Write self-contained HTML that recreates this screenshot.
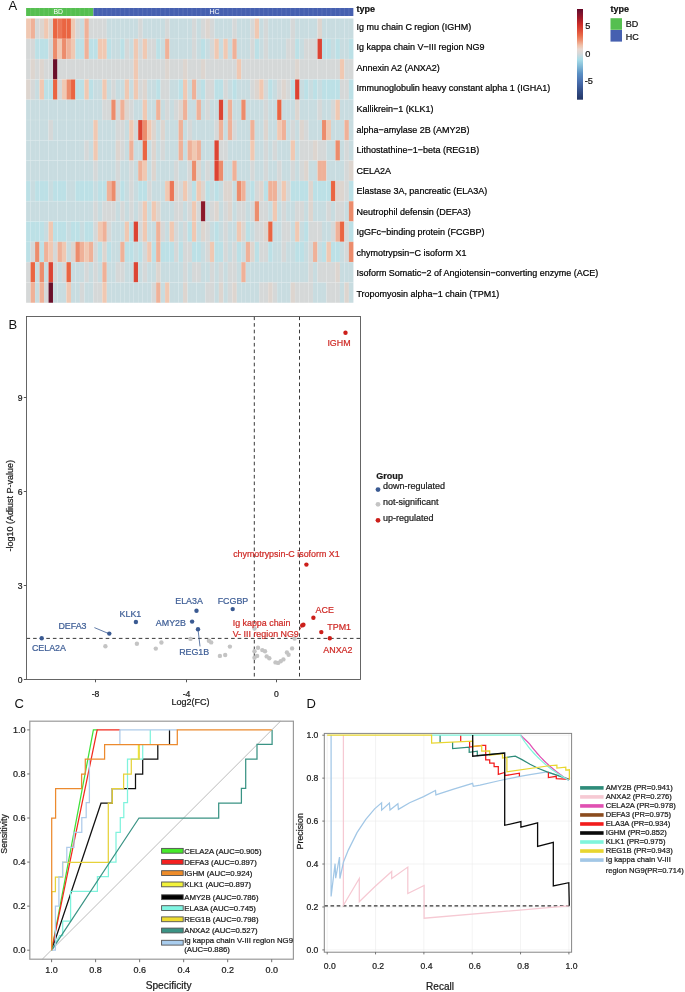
<!DOCTYPE html><html><head><meta charset="utf-8"><style>html,body{margin:0;padding:0;background:#fff;}svg{display:block;will-change:transform;}text{font-family:"Liberation Sans", sans-serif;}</style></head><body>
<svg width="685" height="992" viewBox="0 0 685 992">
<rect x="0" y="0" width="685" height="992" fill="#fff"/>
<text x="8.6" y="10.4" font-size="13" fill="#111" stroke="none">A</text>
<text x="8.4" y="329.2" font-size="13" fill="#111" stroke="none">B</text>
<text x="14.4" y="707.7" font-size="13" fill="#111" stroke="none">C</text>
<text x="306.6" y="708.1" font-size="13" fill="#111" stroke="none">D</text>
<rect x="26.1" y="8.0" width="67.245" height="8.0" fill="#55BF50"/>
<rect x="93.345" y="8.0" width="260.014" height="8.0" fill="#4660B0"/>
<line x1="30.58" y1="8" x2="30.58" y2="16" stroke="#fff" stroke-opacity="0.25" stroke-width="0.4"/>
<line x1="35.07" y1="8" x2="35.07" y2="16" stroke="#fff" stroke-opacity="0.25" stroke-width="0.4"/>
<line x1="39.55" y1="8" x2="39.55" y2="16" stroke="#fff" stroke-opacity="0.25" stroke-width="0.4"/>
<line x1="44.03" y1="8" x2="44.03" y2="16" stroke="#fff" stroke-opacity="0.25" stroke-width="0.4"/>
<line x1="48.52" y1="8" x2="48.52" y2="16" stroke="#fff" stroke-opacity="0.25" stroke-width="0.4"/>
<line x1="53.00" y1="8" x2="53.00" y2="16" stroke="#fff" stroke-opacity="0.25" stroke-width="0.4"/>
<line x1="57.48" y1="8" x2="57.48" y2="16" stroke="#fff" stroke-opacity="0.25" stroke-width="0.4"/>
<line x1="61.96" y1="8" x2="61.96" y2="16" stroke="#fff" stroke-opacity="0.25" stroke-width="0.4"/>
<line x1="66.45" y1="8" x2="66.45" y2="16" stroke="#fff" stroke-opacity="0.25" stroke-width="0.4"/>
<line x1="70.93" y1="8" x2="70.93" y2="16" stroke="#fff" stroke-opacity="0.25" stroke-width="0.4"/>
<line x1="75.41" y1="8" x2="75.41" y2="16" stroke="#fff" stroke-opacity="0.25" stroke-width="0.4"/>
<line x1="79.90" y1="8" x2="79.90" y2="16" stroke="#fff" stroke-opacity="0.25" stroke-width="0.4"/>
<line x1="84.38" y1="8" x2="84.38" y2="16" stroke="#fff" stroke-opacity="0.25" stroke-width="0.4"/>
<line x1="88.86" y1="8" x2="88.86" y2="16" stroke="#fff" stroke-opacity="0.25" stroke-width="0.4"/>
<line x1="93.34" y1="8" x2="93.34" y2="16" stroke="#fff" stroke-opacity="0.25" stroke-width="0.4"/>
<line x1="97.83" y1="8" x2="97.83" y2="16" stroke="#fff" stroke-opacity="0.25" stroke-width="0.4"/>
<line x1="102.31" y1="8" x2="102.31" y2="16" stroke="#fff" stroke-opacity="0.25" stroke-width="0.4"/>
<line x1="106.79" y1="8" x2="106.79" y2="16" stroke="#fff" stroke-opacity="0.25" stroke-width="0.4"/>
<line x1="111.28" y1="8" x2="111.28" y2="16" stroke="#fff" stroke-opacity="0.25" stroke-width="0.4"/>
<line x1="115.76" y1="8" x2="115.76" y2="16" stroke="#fff" stroke-opacity="0.25" stroke-width="0.4"/>
<line x1="120.24" y1="8" x2="120.24" y2="16" stroke="#fff" stroke-opacity="0.25" stroke-width="0.4"/>
<line x1="124.73" y1="8" x2="124.73" y2="16" stroke="#fff" stroke-opacity="0.25" stroke-width="0.4"/>
<line x1="129.21" y1="8" x2="129.21" y2="16" stroke="#fff" stroke-opacity="0.25" stroke-width="0.4"/>
<line x1="133.69" y1="8" x2="133.69" y2="16" stroke="#fff" stroke-opacity="0.25" stroke-width="0.4"/>
<line x1="138.17" y1="8" x2="138.17" y2="16" stroke="#fff" stroke-opacity="0.25" stroke-width="0.4"/>
<line x1="142.66" y1="8" x2="142.66" y2="16" stroke="#fff" stroke-opacity="0.25" stroke-width="0.4"/>
<line x1="147.14" y1="8" x2="147.14" y2="16" stroke="#fff" stroke-opacity="0.25" stroke-width="0.4"/>
<line x1="151.62" y1="8" x2="151.62" y2="16" stroke="#fff" stroke-opacity="0.25" stroke-width="0.4"/>
<line x1="156.11" y1="8" x2="156.11" y2="16" stroke="#fff" stroke-opacity="0.25" stroke-width="0.4"/>
<line x1="160.59" y1="8" x2="160.59" y2="16" stroke="#fff" stroke-opacity="0.25" stroke-width="0.4"/>
<line x1="165.07" y1="8" x2="165.07" y2="16" stroke="#fff" stroke-opacity="0.25" stroke-width="0.4"/>
<line x1="169.56" y1="8" x2="169.56" y2="16" stroke="#fff" stroke-opacity="0.25" stroke-width="0.4"/>
<line x1="174.04" y1="8" x2="174.04" y2="16" stroke="#fff" stroke-opacity="0.25" stroke-width="0.4"/>
<line x1="178.52" y1="8" x2="178.52" y2="16" stroke="#fff" stroke-opacity="0.25" stroke-width="0.4"/>
<line x1="183.00" y1="8" x2="183.00" y2="16" stroke="#fff" stroke-opacity="0.25" stroke-width="0.4"/>
<line x1="187.49" y1="8" x2="187.49" y2="16" stroke="#fff" stroke-opacity="0.25" stroke-width="0.4"/>
<line x1="191.97" y1="8" x2="191.97" y2="16" stroke="#fff" stroke-opacity="0.25" stroke-width="0.4"/>
<line x1="196.45" y1="8" x2="196.45" y2="16" stroke="#fff" stroke-opacity="0.25" stroke-width="0.4"/>
<line x1="200.94" y1="8" x2="200.94" y2="16" stroke="#fff" stroke-opacity="0.25" stroke-width="0.4"/>
<line x1="205.42" y1="8" x2="205.42" y2="16" stroke="#fff" stroke-opacity="0.25" stroke-width="0.4"/>
<line x1="209.90" y1="8" x2="209.90" y2="16" stroke="#fff" stroke-opacity="0.25" stroke-width="0.4"/>
<line x1="214.39" y1="8" x2="214.39" y2="16" stroke="#fff" stroke-opacity="0.25" stroke-width="0.4"/>
<line x1="218.87" y1="8" x2="218.87" y2="16" stroke="#fff" stroke-opacity="0.25" stroke-width="0.4"/>
<line x1="223.35" y1="8" x2="223.35" y2="16" stroke="#fff" stroke-opacity="0.25" stroke-width="0.4"/>
<line x1="227.83" y1="8" x2="227.83" y2="16" stroke="#fff" stroke-opacity="0.25" stroke-width="0.4"/>
<line x1="232.32" y1="8" x2="232.32" y2="16" stroke="#fff" stroke-opacity="0.25" stroke-width="0.4"/>
<line x1="236.80" y1="8" x2="236.80" y2="16" stroke="#fff" stroke-opacity="0.25" stroke-width="0.4"/>
<line x1="241.28" y1="8" x2="241.28" y2="16" stroke="#fff" stroke-opacity="0.25" stroke-width="0.4"/>
<line x1="245.77" y1="8" x2="245.77" y2="16" stroke="#fff" stroke-opacity="0.25" stroke-width="0.4"/>
<line x1="250.25" y1="8" x2="250.25" y2="16" stroke="#fff" stroke-opacity="0.25" stroke-width="0.4"/>
<line x1="254.73" y1="8" x2="254.73" y2="16" stroke="#fff" stroke-opacity="0.25" stroke-width="0.4"/>
<line x1="259.22" y1="8" x2="259.22" y2="16" stroke="#fff" stroke-opacity="0.25" stroke-width="0.4"/>
<line x1="263.70" y1="8" x2="263.70" y2="16" stroke="#fff" stroke-opacity="0.25" stroke-width="0.4"/>
<line x1="268.18" y1="8" x2="268.18" y2="16" stroke="#fff" stroke-opacity="0.25" stroke-width="0.4"/>
<line x1="272.66" y1="8" x2="272.66" y2="16" stroke="#fff" stroke-opacity="0.25" stroke-width="0.4"/>
<line x1="277.15" y1="8" x2="277.15" y2="16" stroke="#fff" stroke-opacity="0.25" stroke-width="0.4"/>
<line x1="281.63" y1="8" x2="281.63" y2="16" stroke="#fff" stroke-opacity="0.25" stroke-width="0.4"/>
<line x1="286.11" y1="8" x2="286.11" y2="16" stroke="#fff" stroke-opacity="0.25" stroke-width="0.4"/>
<line x1="290.60" y1="8" x2="290.60" y2="16" stroke="#fff" stroke-opacity="0.25" stroke-width="0.4"/>
<line x1="295.08" y1="8" x2="295.08" y2="16" stroke="#fff" stroke-opacity="0.25" stroke-width="0.4"/>
<line x1="299.56" y1="8" x2="299.56" y2="16" stroke="#fff" stroke-opacity="0.25" stroke-width="0.4"/>
<line x1="304.05" y1="8" x2="304.05" y2="16" stroke="#fff" stroke-opacity="0.25" stroke-width="0.4"/>
<line x1="308.53" y1="8" x2="308.53" y2="16" stroke="#fff" stroke-opacity="0.25" stroke-width="0.4"/>
<line x1="313.01" y1="8" x2="313.01" y2="16" stroke="#fff" stroke-opacity="0.25" stroke-width="0.4"/>
<line x1="317.50" y1="8" x2="317.50" y2="16" stroke="#fff" stroke-opacity="0.25" stroke-width="0.4"/>
<line x1="321.98" y1="8" x2="321.98" y2="16" stroke="#fff" stroke-opacity="0.25" stroke-width="0.4"/>
<line x1="326.46" y1="8" x2="326.46" y2="16" stroke="#fff" stroke-opacity="0.25" stroke-width="0.4"/>
<line x1="330.94" y1="8" x2="330.94" y2="16" stroke="#fff" stroke-opacity="0.25" stroke-width="0.4"/>
<line x1="335.43" y1="8" x2="335.43" y2="16" stroke="#fff" stroke-opacity="0.25" stroke-width="0.4"/>
<line x1="339.91" y1="8" x2="339.91" y2="16" stroke="#fff" stroke-opacity="0.25" stroke-width="0.4"/>
<line x1="344.39" y1="8" x2="344.39" y2="16" stroke="#fff" stroke-opacity="0.25" stroke-width="0.4"/>
<line x1="348.88" y1="8" x2="348.88" y2="16" stroke="#fff" stroke-opacity="0.25" stroke-width="0.4"/>
<text x="58.2" y="14.3" font-size="6.8" fill="#fff" stroke="none" text-anchor="middle">BD</text>
<text x="214.4" y="14.3" font-size="6.8" fill="#fff" stroke="none" text-anchor="middle">HC</text>
<rect x="26.10" y="18.50" width="4.533" height="20.35" fill="#F0C8B2"/>
<rect x="30.58" y="18.50" width="4.533" height="20.35" fill="#EFB198"/>
<rect x="35.07" y="18.50" width="4.533" height="20.35" fill="#D5D8D8"/>
<rect x="39.55" y="18.50" width="4.533" height="20.35" fill="#DDD5CF"/>
<rect x="44.03" y="18.50" width="4.533" height="20.35" fill="#F0C8B2"/>
<rect x="48.52" y="18.50" width="4.533" height="20.35" fill="#DDD5CF"/>
<rect x="53.00" y="18.50" width="4.533" height="20.35" fill="#EA6542"/>
<rect x="57.48" y="18.50" width="4.533" height="20.35" fill="#EC7656"/>
<rect x="61.96" y="18.50" width="4.533" height="20.35" fill="#EA6542"/>
<rect x="66.45" y="18.50" width="4.533" height="20.35" fill="#EA6542"/>
<rect x="70.93" y="18.50" width="4.533" height="20.35" fill="#F0C8B2"/>
<rect x="75.41" y="18.50" width="4.533" height="20.35" fill="#D5D8D8"/>
<rect x="79.90" y="18.50" width="4.533" height="20.35" fill="#C8DCE0"/>
<rect x="84.38" y="18.50" width="4.533" height="20.35" fill="#EFB198"/>
<rect x="88.86" y="18.50" width="4.533" height="20.35" fill="#D5D8D8"/>
<rect x="93.34" y="18.50" width="4.533" height="20.35" fill="#D5D8D8"/>
<rect x="97.83" y="18.50" width="4.533" height="20.35" fill="#D5D8D8"/>
<rect x="102.31" y="18.50" width="4.533" height="20.35" fill="#D5D8D8"/>
<rect x="106.79" y="18.50" width="4.533" height="20.35" fill="#C8DCE0"/>
<rect x="111.28" y="18.50" width="4.533" height="20.35" fill="#C8DCE0"/>
<rect x="115.76" y="18.50" width="4.533" height="20.35" fill="#C8DCE0"/>
<rect x="120.24" y="18.50" width="4.533" height="20.35" fill="#C8DCE0"/>
<rect x="124.73" y="18.50" width="4.533" height="20.35" fill="#C8DCE0"/>
<rect x="129.21" y="18.50" width="4.533" height="20.35" fill="#C8DCE0"/>
<rect x="133.69" y="18.50" width="4.533" height="20.35" fill="#C8DCE0"/>
<rect x="138.17" y="18.50" width="4.533" height="20.35" fill="#D5D8D8"/>
<rect x="142.66" y="18.50" width="4.533" height="20.35" fill="#C8DCE0"/>
<rect x="147.14" y="18.50" width="4.533" height="20.35" fill="#C8DCE0"/>
<rect x="151.62" y="18.50" width="4.533" height="20.35" fill="#C8DCE0"/>
<rect x="156.11" y="18.50" width="4.533" height="20.35" fill="#C8DCE0"/>
<rect x="160.59" y="18.50" width="4.533" height="20.35" fill="#C8DCE0"/>
<rect x="165.07" y="18.50" width="4.533" height="20.35" fill="#D5D8D8"/>
<rect x="169.56" y="18.50" width="4.533" height="20.35" fill="#C8DCE0"/>
<rect x="174.04" y="18.50" width="4.533" height="20.35" fill="#C8DCE0"/>
<rect x="178.52" y="18.50" width="4.533" height="20.35" fill="#C8DCE0"/>
<rect x="183.00" y="18.50" width="4.533" height="20.35" fill="#C8DCE0"/>
<rect x="187.49" y="18.50" width="4.533" height="20.35" fill="#C8DCE0"/>
<rect x="191.97" y="18.50" width="4.533" height="20.35" fill="#D5D8D8"/>
<rect x="196.45" y="18.50" width="4.533" height="20.35" fill="#C8DCE0"/>
<rect x="200.94" y="18.50" width="4.533" height="20.35" fill="#D5D8D8"/>
<rect x="205.42" y="18.50" width="4.533" height="20.35" fill="#DDD5CF"/>
<rect x="209.90" y="18.50" width="4.533" height="20.35" fill="#D5D8D8"/>
<rect x="214.39" y="18.50" width="4.533" height="20.35" fill="#C8DCE0"/>
<rect x="218.87" y="18.50" width="4.533" height="20.35" fill="#C8DCE0"/>
<rect x="223.35" y="18.50" width="4.533" height="20.35" fill="#C8DCE0"/>
<rect x="227.83" y="18.50" width="4.533" height="20.35" fill="#C8DCE0"/>
<rect x="232.32" y="18.50" width="4.533" height="20.35" fill="#D5D8D8"/>
<rect x="236.80" y="18.50" width="4.533" height="20.35" fill="#C8DCE0"/>
<rect x="241.28" y="18.50" width="4.533" height="20.35" fill="#C8DCE0"/>
<rect x="245.77" y="18.50" width="4.533" height="20.35" fill="#C8DCE0"/>
<rect x="250.25" y="18.50" width="4.533" height="20.35" fill="#D5D8D8"/>
<rect x="254.73" y="18.50" width="4.533" height="20.35" fill="#F0C8B2"/>
<rect x="259.22" y="18.50" width="4.533" height="20.35" fill="#C8DCE0"/>
<rect x="263.70" y="18.50" width="4.533" height="20.35" fill="#D5D8D8"/>
<rect x="268.18" y="18.50" width="4.533" height="20.35" fill="#C8DCE0"/>
<rect x="272.66" y="18.50" width="4.533" height="20.35" fill="#C8DCE0"/>
<rect x="277.15" y="18.50" width="4.533" height="20.35" fill="#C8DCE0"/>
<rect x="281.63" y="18.50" width="4.533" height="20.35" fill="#C8DCE0"/>
<rect x="286.11" y="18.50" width="4.533" height="20.35" fill="#C8DCE0"/>
<rect x="290.60" y="18.50" width="4.533" height="20.35" fill="#D5D8D8"/>
<rect x="295.08" y="18.50" width="4.533" height="20.35" fill="#C8DCE0"/>
<rect x="299.56" y="18.50" width="4.533" height="20.35" fill="#C8DCE0"/>
<rect x="304.05" y="18.50" width="4.533" height="20.35" fill="#C8DCE0"/>
<rect x="308.53" y="18.50" width="4.533" height="20.35" fill="#C8DCE0"/>
<rect x="313.01" y="18.50" width="4.533" height="20.35" fill="#C8DCE0"/>
<rect x="317.50" y="18.50" width="4.533" height="20.35" fill="#DDD5CF"/>
<rect x="321.98" y="18.50" width="4.533" height="20.35" fill="#C8DCE0"/>
<rect x="326.46" y="18.50" width="4.533" height="20.35" fill="#C8DCE0"/>
<rect x="330.94" y="18.50" width="4.533" height="20.35" fill="#C8DCE0"/>
<rect x="335.43" y="18.50" width="4.533" height="20.35" fill="#C8DCE0"/>
<rect x="339.91" y="18.50" width="4.533" height="20.35" fill="#C8DCE0"/>
<rect x="344.39" y="18.50" width="4.533" height="20.35" fill="#C8DCE0"/>
<rect x="348.88" y="18.50" width="4.533" height="20.35" fill="#C8DCE0"/>
<rect x="26.10" y="38.80" width="4.533" height="20.35" fill="#D5D8D8"/>
<rect x="30.58" y="38.80" width="4.533" height="20.35" fill="#D5D8D8"/>
<rect x="35.07" y="38.80" width="4.533" height="20.35" fill="#BCE0E6"/>
<rect x="39.55" y="38.80" width="4.533" height="20.35" fill="#BCE0E6"/>
<rect x="44.03" y="38.80" width="4.533" height="20.35" fill="#BCE0E6"/>
<rect x="48.52" y="38.80" width="4.533" height="20.35" fill="#D5D8D8"/>
<rect x="53.00" y="38.80" width="4.533" height="20.35" fill="#EC8C6C"/>
<rect x="57.48" y="38.80" width="4.533" height="20.35" fill="#F0C8B2"/>
<rect x="61.96" y="38.80" width="4.533" height="20.35" fill="#EC8C6C"/>
<rect x="66.45" y="38.80" width="4.533" height="20.35" fill="#EFB198"/>
<rect x="70.93" y="38.80" width="4.533" height="20.35" fill="#F0C8B2"/>
<rect x="75.41" y="38.80" width="4.533" height="20.35" fill="#BCE0E6"/>
<rect x="79.90" y="38.80" width="4.533" height="20.35" fill="#BCE0E6"/>
<rect x="84.38" y="38.80" width="4.533" height="20.35" fill="#EFB198"/>
<rect x="88.86" y="38.80" width="4.533" height="20.35" fill="#BCE0E6"/>
<rect x="93.34" y="38.80" width="4.533" height="20.35" fill="#BCE0E6"/>
<rect x="97.83" y="38.80" width="4.533" height="20.35" fill="#F0C8B2"/>
<rect x="102.31" y="38.80" width="4.533" height="20.35" fill="#F0C8B2"/>
<rect x="106.79" y="38.80" width="4.533" height="20.35" fill="#BCE0E6"/>
<rect x="111.28" y="38.80" width="4.533" height="20.35" fill="#C8DCE0"/>
<rect x="115.76" y="38.80" width="4.533" height="20.35" fill="#C8DCE0"/>
<rect x="120.24" y="38.80" width="4.533" height="20.35" fill="#BCE0E6"/>
<rect x="124.73" y="38.80" width="4.533" height="20.35" fill="#D5D8D8"/>
<rect x="129.21" y="38.80" width="4.533" height="20.35" fill="#C8DCE0"/>
<rect x="133.69" y="38.80" width="4.533" height="20.35" fill="#F0C8B2"/>
<rect x="138.17" y="38.80" width="4.533" height="20.35" fill="#D5D8D8"/>
<rect x="142.66" y="38.80" width="4.533" height="20.35" fill="#F0C8B2"/>
<rect x="147.14" y="38.80" width="4.533" height="20.35" fill="#D5D8D8"/>
<rect x="151.62" y="38.80" width="4.533" height="20.35" fill="#D5D8D8"/>
<rect x="156.11" y="38.80" width="4.533" height="20.35" fill="#BCE0E6"/>
<rect x="160.59" y="38.80" width="4.533" height="20.35" fill="#C8DCE0"/>
<rect x="165.07" y="38.80" width="4.533" height="20.35" fill="#EFB198"/>
<rect x="169.56" y="38.80" width="4.533" height="20.35" fill="#C8DCE0"/>
<rect x="174.04" y="38.80" width="4.533" height="20.35" fill="#C8DCE0"/>
<rect x="178.52" y="38.80" width="4.533" height="20.35" fill="#C8DCE0"/>
<rect x="183.00" y="38.80" width="4.533" height="20.35" fill="#C8DCE0"/>
<rect x="187.49" y="38.80" width="4.533" height="20.35" fill="#C8DCE0"/>
<rect x="191.97" y="38.80" width="4.533" height="20.35" fill="#D5D8D8"/>
<rect x="196.45" y="38.80" width="4.533" height="20.35" fill="#C8DCE0"/>
<rect x="200.94" y="38.80" width="4.533" height="20.35" fill="#BCE0E6"/>
<rect x="205.42" y="38.80" width="4.533" height="20.35" fill="#C8DCE0"/>
<rect x="209.90" y="38.80" width="4.533" height="20.35" fill="#D5D8D8"/>
<rect x="214.39" y="38.80" width="4.533" height="20.35" fill="#F0C8B2"/>
<rect x="218.87" y="38.80" width="4.533" height="20.35" fill="#C8DCE0"/>
<rect x="223.35" y="38.80" width="4.533" height="20.35" fill="#F0C8B2"/>
<rect x="227.83" y="38.80" width="4.533" height="20.35" fill="#C8DCE0"/>
<rect x="232.32" y="38.80" width="4.533" height="20.35" fill="#EFB198"/>
<rect x="236.80" y="38.80" width="4.533" height="20.35" fill="#C8DCE0"/>
<rect x="241.28" y="38.80" width="4.533" height="20.35" fill="#C8DCE0"/>
<rect x="245.77" y="38.80" width="4.533" height="20.35" fill="#C8DCE0"/>
<rect x="250.25" y="38.80" width="4.533" height="20.35" fill="#D5D8D8"/>
<rect x="254.73" y="38.80" width="4.533" height="20.35" fill="#BCE0E6"/>
<rect x="259.22" y="38.80" width="4.533" height="20.35" fill="#C8DCE0"/>
<rect x="263.70" y="38.80" width="4.533" height="20.35" fill="#D5D8D8"/>
<rect x="268.18" y="38.80" width="4.533" height="20.35" fill="#C8DCE0"/>
<rect x="272.66" y="38.80" width="4.533" height="20.35" fill="#C8DCE0"/>
<rect x="277.15" y="38.80" width="4.533" height="20.35" fill="#C8DCE0"/>
<rect x="281.63" y="38.80" width="4.533" height="20.35" fill="#C8DCE0"/>
<rect x="286.11" y="38.80" width="4.533" height="20.35" fill="#D5D8D8"/>
<rect x="290.60" y="38.80" width="4.533" height="20.35" fill="#D5D8D8"/>
<rect x="295.08" y="38.80" width="4.533" height="20.35" fill="#BCE0E6"/>
<rect x="299.56" y="38.80" width="4.533" height="20.35" fill="#C8DCE0"/>
<rect x="304.05" y="38.80" width="4.533" height="20.35" fill="#D5D8D8"/>
<rect x="308.53" y="38.80" width="4.533" height="20.35" fill="#D5D8D8"/>
<rect x="313.01" y="38.80" width="4.533" height="20.35" fill="#D5D8D8"/>
<rect x="317.50" y="38.80" width="4.533" height="20.35" fill="#DC4433"/>
<rect x="321.98" y="38.80" width="4.533" height="20.35" fill="#BCE0E6"/>
<rect x="326.46" y="38.80" width="4.533" height="20.35" fill="#BCE0E6"/>
<rect x="330.94" y="38.80" width="4.533" height="20.35" fill="#C8DCE0"/>
<rect x="335.43" y="38.80" width="4.533" height="20.35" fill="#BCE0E6"/>
<rect x="339.91" y="38.80" width="4.533" height="20.35" fill="#C8DCE0"/>
<rect x="344.39" y="38.80" width="4.533" height="20.35" fill="#C8DCE0"/>
<rect x="348.88" y="38.80" width="4.533" height="20.35" fill="#BCE0E6"/>
<rect x="26.10" y="59.10" width="4.533" height="20.35" fill="#D5D8D8"/>
<rect x="30.58" y="59.10" width="4.533" height="20.35" fill="#DDD5CF"/>
<rect x="35.07" y="59.10" width="4.533" height="20.35" fill="#D5D8D8"/>
<rect x="39.55" y="59.10" width="4.533" height="20.35" fill="#DDD5CF"/>
<rect x="44.03" y="59.10" width="4.533" height="20.35" fill="#D5D8D8"/>
<rect x="48.52" y="59.10" width="4.533" height="20.35" fill="#D5D8D8"/>
<rect x="53.00" y="59.10" width="4.533" height="20.35" fill="#6A0F2A"/>
<rect x="57.48" y="59.10" width="4.533" height="20.35" fill="#D5D8D8"/>
<rect x="61.96" y="59.10" width="4.533" height="20.35" fill="#D5D8D8"/>
<rect x="66.45" y="59.10" width="4.533" height="20.35" fill="#D5D8D8"/>
<rect x="70.93" y="59.10" width="4.533" height="20.35" fill="#D5D8D8"/>
<rect x="75.41" y="59.10" width="4.533" height="20.35" fill="#D5D8D8"/>
<rect x="79.90" y="59.10" width="4.533" height="20.35" fill="#D5D8D8"/>
<rect x="84.38" y="59.10" width="4.533" height="20.35" fill="#D5D8D8"/>
<rect x="88.86" y="59.10" width="4.533" height="20.35" fill="#D5D8D8"/>
<rect x="93.34" y="59.10" width="4.533" height="20.35" fill="#D5D8D8"/>
<rect x="97.83" y="59.10" width="4.533" height="20.35" fill="#D5D8D8"/>
<rect x="102.31" y="59.10" width="4.533" height="20.35" fill="#D5D8D8"/>
<rect x="106.79" y="59.10" width="4.533" height="20.35" fill="#D5D8D8"/>
<rect x="111.28" y="59.10" width="4.533" height="20.35" fill="#D5D8D8"/>
<rect x="115.76" y="59.10" width="4.533" height="20.35" fill="#D5D8D8"/>
<rect x="120.24" y="59.10" width="4.533" height="20.35" fill="#D5D8D8"/>
<rect x="124.73" y="59.10" width="4.533" height="20.35" fill="#D5D8D8"/>
<rect x="129.21" y="59.10" width="4.533" height="20.35" fill="#D5D8D8"/>
<rect x="133.69" y="59.10" width="4.533" height="20.35" fill="#F0C8B2"/>
<rect x="138.17" y="59.10" width="4.533" height="20.35" fill="#D5D8D8"/>
<rect x="142.66" y="59.10" width="4.533" height="20.35" fill="#D5D8D8"/>
<rect x="147.14" y="59.10" width="4.533" height="20.35" fill="#D5D8D8"/>
<rect x="151.62" y="59.10" width="4.533" height="20.35" fill="#D5D8D8"/>
<rect x="156.11" y="59.10" width="4.533" height="20.35" fill="#D5D8D8"/>
<rect x="160.59" y="59.10" width="4.533" height="20.35" fill="#D5D8D8"/>
<rect x="165.07" y="59.10" width="4.533" height="20.35" fill="#DDD5CF"/>
<rect x="169.56" y="59.10" width="4.533" height="20.35" fill="#D5D8D8"/>
<rect x="174.04" y="59.10" width="4.533" height="20.35" fill="#D5D8D8"/>
<rect x="178.52" y="59.10" width="4.533" height="20.35" fill="#D5D8D8"/>
<rect x="183.00" y="59.10" width="4.533" height="20.35" fill="#DDD5CF"/>
<rect x="187.49" y="59.10" width="4.533" height="20.35" fill="#D5D8D8"/>
<rect x="191.97" y="59.10" width="4.533" height="20.35" fill="#D5D8D8"/>
<rect x="196.45" y="59.10" width="4.533" height="20.35" fill="#D5D8D8"/>
<rect x="200.94" y="59.10" width="4.533" height="20.35" fill="#DDD5CF"/>
<rect x="205.42" y="59.10" width="4.533" height="20.35" fill="#D5D8D8"/>
<rect x="209.90" y="59.10" width="4.533" height="20.35" fill="#D5D8D8"/>
<rect x="214.39" y="59.10" width="4.533" height="20.35" fill="#D5D8D8"/>
<rect x="218.87" y="59.10" width="4.533" height="20.35" fill="#D5D8D8"/>
<rect x="223.35" y="59.10" width="4.533" height="20.35" fill="#D5D8D8"/>
<rect x="227.83" y="59.10" width="4.533" height="20.35" fill="#D5D8D8"/>
<rect x="232.32" y="59.10" width="4.533" height="20.35" fill="#D5D8D8"/>
<rect x="236.80" y="59.10" width="4.533" height="20.35" fill="#F0C8B2"/>
<rect x="241.28" y="59.10" width="4.533" height="20.35" fill="#D5D8D8"/>
<rect x="245.77" y="59.10" width="4.533" height="20.35" fill="#D5D8D8"/>
<rect x="250.25" y="59.10" width="4.533" height="20.35" fill="#D5D8D8"/>
<rect x="254.73" y="59.10" width="4.533" height="20.35" fill="#D5D8D8"/>
<rect x="259.22" y="59.10" width="4.533" height="20.35" fill="#D5D8D8"/>
<rect x="263.70" y="59.10" width="4.533" height="20.35" fill="#D5D8D8"/>
<rect x="268.18" y="59.10" width="4.533" height="20.35" fill="#D5D8D8"/>
<rect x="272.66" y="59.10" width="4.533" height="20.35" fill="#D5D8D8"/>
<rect x="277.15" y="59.10" width="4.533" height="20.35" fill="#D5D8D8"/>
<rect x="281.63" y="59.10" width="4.533" height="20.35" fill="#D5D8D8"/>
<rect x="286.11" y="59.10" width="4.533" height="20.35" fill="#D5D8D8"/>
<rect x="290.60" y="59.10" width="4.533" height="20.35" fill="#D5D8D8"/>
<rect x="295.08" y="59.10" width="4.533" height="20.35" fill="#DDD5CF"/>
<rect x="299.56" y="59.10" width="4.533" height="20.35" fill="#D5D8D8"/>
<rect x="304.05" y="59.10" width="4.533" height="20.35" fill="#D5D8D8"/>
<rect x="308.53" y="59.10" width="4.533" height="20.35" fill="#D5D8D8"/>
<rect x="313.01" y="59.10" width="4.533" height="20.35" fill="#D5D8D8"/>
<rect x="317.50" y="59.10" width="4.533" height="20.35" fill="#D5D8D8"/>
<rect x="321.98" y="59.10" width="4.533" height="20.35" fill="#D5D8D8"/>
<rect x="326.46" y="59.10" width="4.533" height="20.35" fill="#D5D8D8"/>
<rect x="330.94" y="59.10" width="4.533" height="20.35" fill="#D5D8D8"/>
<rect x="335.43" y="59.10" width="4.533" height="20.35" fill="#D5D8D8"/>
<rect x="339.91" y="59.10" width="4.533" height="20.35" fill="#F0C8B2"/>
<rect x="344.39" y="59.10" width="4.533" height="20.35" fill="#D5D8D8"/>
<rect x="348.88" y="59.10" width="4.533" height="20.35" fill="#D5D8D8"/>
<rect x="26.10" y="79.40" width="4.533" height="20.35" fill="#DDD5CF"/>
<rect x="30.58" y="79.40" width="4.533" height="20.35" fill="#D5D8D8"/>
<rect x="35.07" y="79.40" width="4.533" height="20.35" fill="#C8DCE0"/>
<rect x="39.55" y="79.40" width="4.533" height="20.35" fill="#F0C8B2"/>
<rect x="44.03" y="79.40" width="4.533" height="20.35" fill="#BCE0E6"/>
<rect x="48.52" y="79.40" width="4.533" height="20.35" fill="#BCE0E6"/>
<rect x="53.00" y="79.40" width="4.533" height="20.35" fill="#EA6542"/>
<rect x="57.48" y="79.40" width="4.533" height="20.35" fill="#D5D8D8"/>
<rect x="61.96" y="79.40" width="4.533" height="20.35" fill="#F0C8B2"/>
<rect x="66.45" y="79.40" width="4.533" height="20.35" fill="#EC8C6C"/>
<rect x="70.93" y="79.40" width="4.533" height="20.35" fill="#EA6542"/>
<rect x="75.41" y="79.40" width="4.533" height="20.35" fill="#BCE0E6"/>
<rect x="79.90" y="79.40" width="4.533" height="20.35" fill="#BCE0E6"/>
<rect x="84.38" y="79.40" width="4.533" height="20.35" fill="#F0C8B2"/>
<rect x="88.86" y="79.40" width="4.533" height="20.35" fill="#BCE0E6"/>
<rect x="93.34" y="79.40" width="4.533" height="20.35" fill="#C8DCE0"/>
<rect x="97.83" y="79.40" width="4.533" height="20.35" fill="#C8DCE0"/>
<rect x="102.31" y="79.40" width="4.533" height="20.35" fill="#F0C8B2"/>
<rect x="106.79" y="79.40" width="4.533" height="20.35" fill="#C8DCE0"/>
<rect x="111.28" y="79.40" width="4.533" height="20.35" fill="#D5D8D8"/>
<rect x="115.76" y="79.40" width="4.533" height="20.35" fill="#C8DCE0"/>
<rect x="120.24" y="79.40" width="4.533" height="20.35" fill="#C8DCE0"/>
<rect x="124.73" y="79.40" width="4.533" height="20.35" fill="#F0C8B2"/>
<rect x="129.21" y="79.40" width="4.533" height="20.35" fill="#C8DCE0"/>
<rect x="133.69" y="79.40" width="4.533" height="20.35" fill="#F0C8B2"/>
<rect x="138.17" y="79.40" width="4.533" height="20.35" fill="#D5D8D8"/>
<rect x="142.66" y="79.40" width="4.533" height="20.35" fill="#DDD5CF"/>
<rect x="147.14" y="79.40" width="4.533" height="20.35" fill="#C8DCE0"/>
<rect x="151.62" y="79.40" width="4.533" height="20.35" fill="#C8DCE0"/>
<rect x="156.11" y="79.40" width="4.533" height="20.35" fill="#BCE0E6"/>
<rect x="160.59" y="79.40" width="4.533" height="20.35" fill="#D5D8D8"/>
<rect x="165.07" y="79.40" width="4.533" height="20.35" fill="#D5D8D8"/>
<rect x="169.56" y="79.40" width="4.533" height="20.35" fill="#C8DCE0"/>
<rect x="174.04" y="79.40" width="4.533" height="20.35" fill="#C8DCE0"/>
<rect x="178.52" y="79.40" width="4.533" height="20.35" fill="#BCE0E6"/>
<rect x="183.00" y="79.40" width="4.533" height="20.35" fill="#F0C8B2"/>
<rect x="187.49" y="79.40" width="4.533" height="20.35" fill="#C8DCE0"/>
<rect x="191.97" y="79.40" width="4.533" height="20.35" fill="#EFB198"/>
<rect x="196.45" y="79.40" width="4.533" height="20.35" fill="#C8DCE0"/>
<rect x="200.94" y="79.40" width="4.533" height="20.35" fill="#BCE0E6"/>
<rect x="205.42" y="79.40" width="4.533" height="20.35" fill="#D5D8D8"/>
<rect x="209.90" y="79.40" width="4.533" height="20.35" fill="#D5D8D8"/>
<rect x="214.39" y="79.40" width="4.533" height="20.35" fill="#BCE0E6"/>
<rect x="218.87" y="79.40" width="4.533" height="20.35" fill="#BCE0E6"/>
<rect x="223.35" y="79.40" width="4.533" height="20.35" fill="#D5D8D8"/>
<rect x="227.83" y="79.40" width="4.533" height="20.35" fill="#C8DCE0"/>
<rect x="232.32" y="79.40" width="4.533" height="20.35" fill="#BCE0E6"/>
<rect x="236.80" y="79.40" width="4.533" height="20.35" fill="#C8DCE0"/>
<rect x="241.28" y="79.40" width="4.533" height="20.35" fill="#C8DCE0"/>
<rect x="245.77" y="79.40" width="4.533" height="20.35" fill="#C8DCE0"/>
<rect x="250.25" y="79.40" width="4.533" height="20.35" fill="#D5D8D8"/>
<rect x="254.73" y="79.40" width="4.533" height="20.35" fill="#DDD5CF"/>
<rect x="259.22" y="79.40" width="4.533" height="20.35" fill="#F0C8B2"/>
<rect x="263.70" y="79.40" width="4.533" height="20.35" fill="#D5D8D8"/>
<rect x="268.18" y="79.40" width="4.533" height="20.35" fill="#BCE0E6"/>
<rect x="272.66" y="79.40" width="4.533" height="20.35" fill="#C8DCE0"/>
<rect x="277.15" y="79.40" width="4.533" height="20.35" fill="#D5D8D8"/>
<rect x="281.63" y="79.40" width="4.533" height="20.35" fill="#DDD5CF"/>
<rect x="286.11" y="79.40" width="4.533" height="20.35" fill="#D5D8D8"/>
<rect x="290.60" y="79.40" width="4.533" height="20.35" fill="#BCE0E6"/>
<rect x="295.08" y="79.40" width="4.533" height="20.35" fill="#DC4433"/>
<rect x="299.56" y="79.40" width="4.533" height="20.35" fill="#C8DCE0"/>
<rect x="304.05" y="79.40" width="4.533" height="20.35" fill="#BCE0E6"/>
<rect x="308.53" y="79.40" width="4.533" height="20.35" fill="#C8DCE0"/>
<rect x="313.01" y="79.40" width="4.533" height="20.35" fill="#BCE0E6"/>
<rect x="317.50" y="79.40" width="4.533" height="20.35" fill="#C8DCE0"/>
<rect x="321.98" y="79.40" width="4.533" height="20.35" fill="#BCE0E6"/>
<rect x="326.46" y="79.40" width="4.533" height="20.35" fill="#BCE0E6"/>
<rect x="330.94" y="79.40" width="4.533" height="20.35" fill="#BCE0E6"/>
<rect x="335.43" y="79.40" width="4.533" height="20.35" fill="#BCE0E6"/>
<rect x="339.91" y="79.40" width="4.533" height="20.35" fill="#D5D8D8"/>
<rect x="344.39" y="79.40" width="4.533" height="20.35" fill="#D5D8D8"/>
<rect x="348.88" y="79.40" width="4.533" height="20.35" fill="#BCE0E6"/>
<rect x="26.10" y="99.70" width="4.533" height="20.35" fill="#C8DCE0"/>
<rect x="30.58" y="99.70" width="4.533" height="20.35" fill="#C8DCE0"/>
<rect x="35.07" y="99.70" width="4.533" height="20.35" fill="#C8DCE0"/>
<rect x="39.55" y="99.70" width="4.533" height="20.35" fill="#C8DCE0"/>
<rect x="44.03" y="99.70" width="4.533" height="20.35" fill="#C8DCE0"/>
<rect x="48.52" y="99.70" width="4.533" height="20.35" fill="#C8DCE0"/>
<rect x="53.00" y="99.70" width="4.533" height="20.35" fill="#C8DCE0"/>
<rect x="57.48" y="99.70" width="4.533" height="20.35" fill="#C8DCE0"/>
<rect x="61.96" y="99.70" width="4.533" height="20.35" fill="#C8DCE0"/>
<rect x="66.45" y="99.70" width="4.533" height="20.35" fill="#C8DCE0"/>
<rect x="70.93" y="99.70" width="4.533" height="20.35" fill="#C8DCE0"/>
<rect x="75.41" y="99.70" width="4.533" height="20.35" fill="#C8DCE0"/>
<rect x="79.90" y="99.70" width="4.533" height="20.35" fill="#C8DCE0"/>
<rect x="84.38" y="99.70" width="4.533" height="20.35" fill="#C8DCE0"/>
<rect x="88.86" y="99.70" width="4.533" height="20.35" fill="#C8DCE0"/>
<rect x="93.34" y="99.70" width="4.533" height="20.35" fill="#C8DCE0"/>
<rect x="97.83" y="99.70" width="4.533" height="20.35" fill="#C8DCE0"/>
<rect x="102.31" y="99.70" width="4.533" height="20.35" fill="#D5D8D8"/>
<rect x="106.79" y="99.70" width="4.533" height="20.35" fill="#D5D8D8"/>
<rect x="111.28" y="99.70" width="4.533" height="20.35" fill="#EC8C6C"/>
<rect x="115.76" y="99.70" width="4.533" height="20.35" fill="#D5D8D8"/>
<rect x="120.24" y="99.70" width="4.533" height="20.35" fill="#EFB198"/>
<rect x="124.73" y="99.70" width="4.533" height="20.35" fill="#DDD5CF"/>
<rect x="129.21" y="99.70" width="4.533" height="20.35" fill="#D5D8D8"/>
<rect x="133.69" y="99.70" width="4.533" height="20.35" fill="#C8DCE0"/>
<rect x="138.17" y="99.70" width="4.533" height="20.35" fill="#C8DCE0"/>
<rect x="142.66" y="99.70" width="4.533" height="20.35" fill="#F0C8B2"/>
<rect x="147.14" y="99.70" width="4.533" height="20.35" fill="#C8DCE0"/>
<rect x="151.62" y="99.70" width="4.533" height="20.35" fill="#C8DCE0"/>
<rect x="156.11" y="99.70" width="4.533" height="20.35" fill="#EFB198"/>
<rect x="160.59" y="99.70" width="4.533" height="20.35" fill="#C8DCE0"/>
<rect x="165.07" y="99.70" width="4.533" height="20.35" fill="#D5D8D8"/>
<rect x="169.56" y="99.70" width="4.533" height="20.35" fill="#C8DCE0"/>
<rect x="174.04" y="99.70" width="4.533" height="20.35" fill="#D5D8D8"/>
<rect x="178.52" y="99.70" width="4.533" height="20.35" fill="#DDD5CF"/>
<rect x="183.00" y="99.70" width="4.533" height="20.35" fill="#EFB198"/>
<rect x="187.49" y="99.70" width="4.533" height="20.35" fill="#C8DCE0"/>
<rect x="191.97" y="99.70" width="4.533" height="20.35" fill="#C8DCE0"/>
<rect x="196.45" y="99.70" width="4.533" height="20.35" fill="#EFB198"/>
<rect x="200.94" y="99.70" width="4.533" height="20.35" fill="#C8DCE0"/>
<rect x="205.42" y="99.70" width="4.533" height="20.35" fill="#D5D8D8"/>
<rect x="209.90" y="99.70" width="4.533" height="20.35" fill="#C8DCE0"/>
<rect x="214.39" y="99.70" width="4.533" height="20.35" fill="#C8DCE0"/>
<rect x="218.87" y="99.70" width="4.533" height="20.35" fill="#DC4433"/>
<rect x="223.35" y="99.70" width="4.533" height="20.35" fill="#C8DCE0"/>
<rect x="227.83" y="99.70" width="4.533" height="20.35" fill="#EFB198"/>
<rect x="232.32" y="99.70" width="4.533" height="20.35" fill="#C8DCE0"/>
<rect x="236.80" y="99.70" width="4.533" height="20.35" fill="#C8DCE0"/>
<rect x="241.28" y="99.70" width="4.533" height="20.35" fill="#EC8C6C"/>
<rect x="245.77" y="99.70" width="4.533" height="20.35" fill="#C8DCE0"/>
<rect x="250.25" y="99.70" width="4.533" height="20.35" fill="#C8DCE0"/>
<rect x="254.73" y="99.70" width="4.533" height="20.35" fill="#C8DCE0"/>
<rect x="259.22" y="99.70" width="4.533" height="20.35" fill="#C8DCE0"/>
<rect x="263.70" y="99.70" width="4.533" height="20.35" fill="#D5D8D8"/>
<rect x="268.18" y="99.70" width="4.533" height="20.35" fill="#C8DCE0"/>
<rect x="272.66" y="99.70" width="4.533" height="20.35" fill="#C8DCE0"/>
<rect x="277.15" y="99.70" width="4.533" height="20.35" fill="#EA6542"/>
<rect x="281.63" y="99.70" width="4.533" height="20.35" fill="#C8DCE0"/>
<rect x="286.11" y="99.70" width="4.533" height="20.35" fill="#C8DCE0"/>
<rect x="290.60" y="99.70" width="4.533" height="20.35" fill="#C8DCE0"/>
<rect x="295.08" y="99.70" width="4.533" height="20.35" fill="#DDD5CF"/>
<rect x="299.56" y="99.70" width="4.533" height="20.35" fill="#C8DCE0"/>
<rect x="304.05" y="99.70" width="4.533" height="20.35" fill="#C8DCE0"/>
<rect x="308.53" y="99.70" width="4.533" height="20.35" fill="#C8DCE0"/>
<rect x="313.01" y="99.70" width="4.533" height="20.35" fill="#C8DCE0"/>
<rect x="317.50" y="99.70" width="4.533" height="20.35" fill="#D5D8D8"/>
<rect x="321.98" y="99.70" width="4.533" height="20.35" fill="#C8DCE0"/>
<rect x="326.46" y="99.70" width="4.533" height="20.35" fill="#C8DCE0"/>
<rect x="330.94" y="99.70" width="4.533" height="20.35" fill="#D5D8D8"/>
<rect x="335.43" y="99.70" width="4.533" height="20.35" fill="#F0C8B2"/>
<rect x="339.91" y="99.70" width="4.533" height="20.35" fill="#C8DCE0"/>
<rect x="344.39" y="99.70" width="4.533" height="20.35" fill="#C8DCE0"/>
<rect x="348.88" y="99.70" width="4.533" height="20.35" fill="#C8DCE0"/>
<rect x="26.10" y="120.00" width="4.533" height="20.35" fill="#C8DCE0"/>
<rect x="30.58" y="120.00" width="4.533" height="20.35" fill="#C8DCE0"/>
<rect x="35.07" y="120.00" width="4.533" height="20.35" fill="#C8DCE0"/>
<rect x="39.55" y="120.00" width="4.533" height="20.35" fill="#C8DCE0"/>
<rect x="44.03" y="120.00" width="4.533" height="20.35" fill="#C8DCE0"/>
<rect x="48.52" y="120.00" width="4.533" height="20.35" fill="#D5D8D8"/>
<rect x="53.00" y="120.00" width="4.533" height="20.35" fill="#C8DCE0"/>
<rect x="57.48" y="120.00" width="4.533" height="20.35" fill="#C8DCE0"/>
<rect x="61.96" y="120.00" width="4.533" height="20.35" fill="#C8DCE0"/>
<rect x="66.45" y="120.00" width="4.533" height="20.35" fill="#C8DCE0"/>
<rect x="70.93" y="120.00" width="4.533" height="20.35" fill="#C8DCE0"/>
<rect x="75.41" y="120.00" width="4.533" height="20.35" fill="#C8DCE0"/>
<rect x="79.90" y="120.00" width="4.533" height="20.35" fill="#C8DCE0"/>
<rect x="84.38" y="120.00" width="4.533" height="20.35" fill="#C8DCE0"/>
<rect x="88.86" y="120.00" width="4.533" height="20.35" fill="#C8DCE0"/>
<rect x="93.34" y="120.00" width="4.533" height="20.35" fill="#F0C8B2"/>
<rect x="97.83" y="120.00" width="4.533" height="20.35" fill="#C8DCE0"/>
<rect x="102.31" y="120.00" width="4.533" height="20.35" fill="#C8DCE0"/>
<rect x="106.79" y="120.00" width="4.533" height="20.35" fill="#C8DCE0"/>
<rect x="111.28" y="120.00" width="4.533" height="20.35" fill="#C8DCE0"/>
<rect x="115.76" y="120.00" width="4.533" height="20.35" fill="#D5D8D8"/>
<rect x="120.24" y="120.00" width="4.533" height="20.35" fill="#D5D8D8"/>
<rect x="124.73" y="120.00" width="4.533" height="20.35" fill="#C8DCE0"/>
<rect x="129.21" y="120.00" width="4.533" height="20.35" fill="#F0C8B2"/>
<rect x="133.69" y="120.00" width="4.533" height="20.35" fill="#D5D8D8"/>
<rect x="138.17" y="120.00" width="4.533" height="20.35" fill="#DC4433"/>
<rect x="142.66" y="120.00" width="4.533" height="20.35" fill="#EC8C6C"/>
<rect x="147.14" y="120.00" width="4.533" height="20.35" fill="#F0C8B2"/>
<rect x="151.62" y="120.00" width="4.533" height="20.35" fill="#DDD5CF"/>
<rect x="156.11" y="120.00" width="4.533" height="20.35" fill="#C8DCE0"/>
<rect x="160.59" y="120.00" width="4.533" height="20.35" fill="#DDD5CF"/>
<rect x="165.07" y="120.00" width="4.533" height="20.35" fill="#C8DCE0"/>
<rect x="169.56" y="120.00" width="4.533" height="20.35" fill="#C8DCE0"/>
<rect x="174.04" y="120.00" width="4.533" height="20.35" fill="#C8DCE0"/>
<rect x="178.52" y="120.00" width="4.533" height="20.35" fill="#EFB198"/>
<rect x="183.00" y="120.00" width="4.533" height="20.35" fill="#C8DCE0"/>
<rect x="187.49" y="120.00" width="4.533" height="20.35" fill="#D5D8D8"/>
<rect x="191.97" y="120.00" width="4.533" height="20.35" fill="#C8DCE0"/>
<rect x="196.45" y="120.00" width="4.533" height="20.35" fill="#C8DCE0"/>
<rect x="200.94" y="120.00" width="4.533" height="20.35" fill="#C8DCE0"/>
<rect x="205.42" y="120.00" width="4.533" height="20.35" fill="#C8DCE0"/>
<rect x="209.90" y="120.00" width="4.533" height="20.35" fill="#C8DCE0"/>
<rect x="214.39" y="120.00" width="4.533" height="20.35" fill="#D5D8D8"/>
<rect x="218.87" y="120.00" width="4.533" height="20.35" fill="#EFB198"/>
<rect x="223.35" y="120.00" width="4.533" height="20.35" fill="#C8DCE0"/>
<rect x="227.83" y="120.00" width="4.533" height="20.35" fill="#EFB198"/>
<rect x="232.32" y="120.00" width="4.533" height="20.35" fill="#D5D8D8"/>
<rect x="236.80" y="120.00" width="4.533" height="20.35" fill="#C8DCE0"/>
<rect x="241.28" y="120.00" width="4.533" height="20.35" fill="#C8DCE0"/>
<rect x="245.77" y="120.00" width="4.533" height="20.35" fill="#C8DCE0"/>
<rect x="250.25" y="120.00" width="4.533" height="20.35" fill="#EFB198"/>
<rect x="254.73" y="120.00" width="4.533" height="20.35" fill="#C8DCE0"/>
<rect x="259.22" y="120.00" width="4.533" height="20.35" fill="#C8DCE0"/>
<rect x="263.70" y="120.00" width="4.533" height="20.35" fill="#DDD5CF"/>
<rect x="268.18" y="120.00" width="4.533" height="20.35" fill="#C8DCE0"/>
<rect x="272.66" y="120.00" width="4.533" height="20.35" fill="#C8DCE0"/>
<rect x="277.15" y="120.00" width="4.533" height="20.35" fill="#F0C8B2"/>
<rect x="281.63" y="120.00" width="4.533" height="20.35" fill="#EFB198"/>
<rect x="286.11" y="120.00" width="4.533" height="20.35" fill="#C8DCE0"/>
<rect x="290.60" y="120.00" width="4.533" height="20.35" fill="#D5D8D8"/>
<rect x="295.08" y="120.00" width="4.533" height="20.35" fill="#C8DCE0"/>
<rect x="299.56" y="120.00" width="4.533" height="20.35" fill="#DDD5CF"/>
<rect x="304.05" y="120.00" width="4.533" height="20.35" fill="#D5D8D8"/>
<rect x="308.53" y="120.00" width="4.533" height="20.35" fill="#C8DCE0"/>
<rect x="313.01" y="120.00" width="4.533" height="20.35" fill="#C8DCE0"/>
<rect x="317.50" y="120.00" width="4.533" height="20.35" fill="#C8DCE0"/>
<rect x="321.98" y="120.00" width="4.533" height="20.35" fill="#EC8C6C"/>
<rect x="326.46" y="120.00" width="4.533" height="20.35" fill="#F0C8B2"/>
<rect x="330.94" y="120.00" width="4.533" height="20.35" fill="#C8DCE0"/>
<rect x="335.43" y="120.00" width="4.533" height="20.35" fill="#C8DCE0"/>
<rect x="339.91" y="120.00" width="4.533" height="20.35" fill="#C8DCE0"/>
<rect x="344.39" y="120.00" width="4.533" height="20.35" fill="#EFB198"/>
<rect x="348.88" y="120.00" width="4.533" height="20.35" fill="#C8DCE0"/>
<rect x="26.10" y="140.30" width="4.533" height="20.35" fill="#C8DCE0"/>
<rect x="30.58" y="140.30" width="4.533" height="20.35" fill="#C8DCE0"/>
<rect x="35.07" y="140.30" width="4.533" height="20.35" fill="#C8DCE0"/>
<rect x="39.55" y="140.30" width="4.533" height="20.35" fill="#C8DCE0"/>
<rect x="44.03" y="140.30" width="4.533" height="20.35" fill="#C8DCE0"/>
<rect x="48.52" y="140.30" width="4.533" height="20.35" fill="#C8DCE0"/>
<rect x="53.00" y="140.30" width="4.533" height="20.35" fill="#C8DCE0"/>
<rect x="57.48" y="140.30" width="4.533" height="20.35" fill="#C8DCE0"/>
<rect x="61.96" y="140.30" width="4.533" height="20.35" fill="#C8DCE0"/>
<rect x="66.45" y="140.30" width="4.533" height="20.35" fill="#C8DCE0"/>
<rect x="70.93" y="140.30" width="4.533" height="20.35" fill="#C8DCE0"/>
<rect x="75.41" y="140.30" width="4.533" height="20.35" fill="#C8DCE0"/>
<rect x="79.90" y="140.30" width="4.533" height="20.35" fill="#C8DCE0"/>
<rect x="84.38" y="140.30" width="4.533" height="20.35" fill="#D5D8D8"/>
<rect x="88.86" y="140.30" width="4.533" height="20.35" fill="#C8DCE0"/>
<rect x="93.34" y="140.30" width="4.533" height="20.35" fill="#F0C8B2"/>
<rect x="97.83" y="140.30" width="4.533" height="20.35" fill="#C8DCE0"/>
<rect x="102.31" y="140.30" width="4.533" height="20.35" fill="#C8DCE0"/>
<rect x="106.79" y="140.30" width="4.533" height="20.35" fill="#C8DCE0"/>
<rect x="111.28" y="140.30" width="4.533" height="20.35" fill="#C8DCE0"/>
<rect x="115.76" y="140.30" width="4.533" height="20.35" fill="#DDD5CF"/>
<rect x="120.24" y="140.30" width="4.533" height="20.35" fill="#D5D8D8"/>
<rect x="124.73" y="140.30" width="4.533" height="20.35" fill="#C8DCE0"/>
<rect x="129.21" y="140.30" width="4.533" height="20.35" fill="#EFB198"/>
<rect x="133.69" y="140.30" width="4.533" height="20.35" fill="#C8DCE0"/>
<rect x="138.17" y="140.30" width="4.533" height="20.35" fill="#C8DCE0"/>
<rect x="142.66" y="140.30" width="4.533" height="20.35" fill="#EA6542"/>
<rect x="147.14" y="140.30" width="4.533" height="20.35" fill="#C8DCE0"/>
<rect x="151.62" y="140.30" width="4.533" height="20.35" fill="#DDD5CF"/>
<rect x="156.11" y="140.30" width="4.533" height="20.35" fill="#C8DCE0"/>
<rect x="160.59" y="140.30" width="4.533" height="20.35" fill="#D5D8D8"/>
<rect x="165.07" y="140.30" width="4.533" height="20.35" fill="#C8DCE0"/>
<rect x="169.56" y="140.30" width="4.533" height="20.35" fill="#C8DCE0"/>
<rect x="174.04" y="140.30" width="4.533" height="20.35" fill="#C8DCE0"/>
<rect x="178.52" y="140.30" width="4.533" height="20.35" fill="#EFB198"/>
<rect x="183.00" y="140.30" width="4.533" height="20.35" fill="#C8DCE0"/>
<rect x="187.49" y="140.30" width="4.533" height="20.35" fill="#EFB198"/>
<rect x="191.97" y="140.30" width="4.533" height="20.35" fill="#F0C8B2"/>
<rect x="196.45" y="140.30" width="4.533" height="20.35" fill="#EFB198"/>
<rect x="200.94" y="140.30" width="4.533" height="20.35" fill="#C8DCE0"/>
<rect x="205.42" y="140.30" width="4.533" height="20.35" fill="#C8DCE0"/>
<rect x="209.90" y="140.30" width="4.533" height="20.35" fill="#C8DCE0"/>
<rect x="214.39" y="140.30" width="4.533" height="20.35" fill="#DC4433"/>
<rect x="218.87" y="140.30" width="4.533" height="20.35" fill="#D5D8D8"/>
<rect x="223.35" y="140.30" width="4.533" height="20.35" fill="#D5D8D8"/>
<rect x="227.83" y="140.30" width="4.533" height="20.35" fill="#C8DCE0"/>
<rect x="232.32" y="140.30" width="4.533" height="20.35" fill="#C8DCE0"/>
<rect x="236.80" y="140.30" width="4.533" height="20.35" fill="#C8DCE0"/>
<rect x="241.28" y="140.30" width="4.533" height="20.35" fill="#C8DCE0"/>
<rect x="245.77" y="140.30" width="4.533" height="20.35" fill="#C8DCE0"/>
<rect x="250.25" y="140.30" width="4.533" height="20.35" fill="#F0C8B2"/>
<rect x="254.73" y="140.30" width="4.533" height="20.35" fill="#C8DCE0"/>
<rect x="259.22" y="140.30" width="4.533" height="20.35" fill="#C8DCE0"/>
<rect x="263.70" y="140.30" width="4.533" height="20.35" fill="#D5D8D8"/>
<rect x="268.18" y="140.30" width="4.533" height="20.35" fill="#C8DCE0"/>
<rect x="272.66" y="140.30" width="4.533" height="20.35" fill="#D5D8D8"/>
<rect x="277.15" y="140.30" width="4.533" height="20.35" fill="#C8DCE0"/>
<rect x="281.63" y="140.30" width="4.533" height="20.35" fill="#C8DCE0"/>
<rect x="286.11" y="140.30" width="4.533" height="20.35" fill="#C8DCE0"/>
<rect x="290.60" y="140.30" width="4.533" height="20.35" fill="#F0C8B2"/>
<rect x="295.08" y="140.30" width="4.533" height="20.35" fill="#C8DCE0"/>
<rect x="299.56" y="140.30" width="4.533" height="20.35" fill="#D5D8D8"/>
<rect x="304.05" y="140.30" width="4.533" height="20.35" fill="#D5D8D8"/>
<rect x="308.53" y="140.30" width="4.533" height="20.35" fill="#D5D8D8"/>
<rect x="313.01" y="140.30" width="4.533" height="20.35" fill="#DDD5CF"/>
<rect x="317.50" y="140.30" width="4.533" height="20.35" fill="#D5D8D8"/>
<rect x="321.98" y="140.30" width="4.533" height="20.35" fill="#D5D8D8"/>
<rect x="326.46" y="140.30" width="4.533" height="20.35" fill="#C8DCE0"/>
<rect x="330.94" y="140.30" width="4.533" height="20.35" fill="#C8DCE0"/>
<rect x="335.43" y="140.30" width="4.533" height="20.35" fill="#EC8C6C"/>
<rect x="339.91" y="140.30" width="4.533" height="20.35" fill="#C8DCE0"/>
<rect x="344.39" y="140.30" width="4.533" height="20.35" fill="#D5D8D8"/>
<rect x="348.88" y="140.30" width="4.533" height="20.35" fill="#C8DCE0"/>
<rect x="26.10" y="160.60" width="4.533" height="20.35" fill="#C8DCE0"/>
<rect x="30.58" y="160.60" width="4.533" height="20.35" fill="#C8DCE0"/>
<rect x="35.07" y="160.60" width="4.533" height="20.35" fill="#C8DCE0"/>
<rect x="39.55" y="160.60" width="4.533" height="20.35" fill="#C8DCE0"/>
<rect x="44.03" y="160.60" width="4.533" height="20.35" fill="#C8DCE0"/>
<rect x="48.52" y="160.60" width="4.533" height="20.35" fill="#C8DCE0"/>
<rect x="53.00" y="160.60" width="4.533" height="20.35" fill="#C8DCE0"/>
<rect x="57.48" y="160.60" width="4.533" height="20.35" fill="#C8DCE0"/>
<rect x="61.96" y="160.60" width="4.533" height="20.35" fill="#C8DCE0"/>
<rect x="66.45" y="160.60" width="4.533" height="20.35" fill="#C8DCE0"/>
<rect x="70.93" y="160.60" width="4.533" height="20.35" fill="#C8DCE0"/>
<rect x="75.41" y="160.60" width="4.533" height="20.35" fill="#C8DCE0"/>
<rect x="79.90" y="160.60" width="4.533" height="20.35" fill="#C8DCE0"/>
<rect x="84.38" y="160.60" width="4.533" height="20.35" fill="#C8DCE0"/>
<rect x="88.86" y="160.60" width="4.533" height="20.35" fill="#C8DCE0"/>
<rect x="93.34" y="160.60" width="4.533" height="20.35" fill="#D5D8D8"/>
<rect x="97.83" y="160.60" width="4.533" height="20.35" fill="#C8DCE0"/>
<rect x="102.31" y="160.60" width="4.533" height="20.35" fill="#C8DCE0"/>
<rect x="106.79" y="160.60" width="4.533" height="20.35" fill="#C8DCE0"/>
<rect x="111.28" y="160.60" width="4.533" height="20.35" fill="#C8DCE0"/>
<rect x="115.76" y="160.60" width="4.533" height="20.35" fill="#D5D8D8"/>
<rect x="120.24" y="160.60" width="4.533" height="20.35" fill="#C8DCE0"/>
<rect x="124.73" y="160.60" width="4.533" height="20.35" fill="#C8DCE0"/>
<rect x="129.21" y="160.60" width="4.533" height="20.35" fill="#D5D8D8"/>
<rect x="133.69" y="160.60" width="4.533" height="20.35" fill="#C8DCE0"/>
<rect x="138.17" y="160.60" width="4.533" height="20.35" fill="#EFB198"/>
<rect x="142.66" y="160.60" width="4.533" height="20.35" fill="#F0C8B2"/>
<rect x="147.14" y="160.60" width="4.533" height="20.35" fill="#C8DCE0"/>
<rect x="151.62" y="160.60" width="4.533" height="20.35" fill="#DDD5CF"/>
<rect x="156.11" y="160.60" width="4.533" height="20.35" fill="#C8DCE0"/>
<rect x="160.59" y="160.60" width="4.533" height="20.35" fill="#C8DCE0"/>
<rect x="165.07" y="160.60" width="4.533" height="20.35" fill="#C8DCE0"/>
<rect x="169.56" y="160.60" width="4.533" height="20.35" fill="#C8DCE0"/>
<rect x="174.04" y="160.60" width="4.533" height="20.35" fill="#D5D8D8"/>
<rect x="178.52" y="160.60" width="4.533" height="20.35" fill="#C8DCE0"/>
<rect x="183.00" y="160.60" width="4.533" height="20.35" fill="#C8DCE0"/>
<rect x="187.49" y="160.60" width="4.533" height="20.35" fill="#D5D8D8"/>
<rect x="191.97" y="160.60" width="4.533" height="20.35" fill="#EC8C6C"/>
<rect x="196.45" y="160.60" width="4.533" height="20.35" fill="#DDD5CF"/>
<rect x="200.94" y="160.60" width="4.533" height="20.35" fill="#C8DCE0"/>
<rect x="205.42" y="160.60" width="4.533" height="20.35" fill="#D5D8D8"/>
<rect x="209.90" y="160.60" width="4.533" height="20.35" fill="#C8DCE0"/>
<rect x="214.39" y="160.60" width="4.533" height="20.35" fill="#DC4433"/>
<rect x="218.87" y="160.60" width="4.533" height="20.35" fill="#EC8C6C"/>
<rect x="223.35" y="160.60" width="4.533" height="20.35" fill="#C8DCE0"/>
<rect x="227.83" y="160.60" width="4.533" height="20.35" fill="#C8DCE0"/>
<rect x="232.32" y="160.60" width="4.533" height="20.35" fill="#EFB198"/>
<rect x="236.80" y="160.60" width="4.533" height="20.35" fill="#C8DCE0"/>
<rect x="241.28" y="160.60" width="4.533" height="20.35" fill="#C8DCE0"/>
<rect x="245.77" y="160.60" width="4.533" height="20.35" fill="#C8DCE0"/>
<rect x="250.25" y="160.60" width="4.533" height="20.35" fill="#D5D8D8"/>
<rect x="254.73" y="160.60" width="4.533" height="20.35" fill="#C8DCE0"/>
<rect x="259.22" y="160.60" width="4.533" height="20.35" fill="#C8DCE0"/>
<rect x="263.70" y="160.60" width="4.533" height="20.35" fill="#D5D8D8"/>
<rect x="268.18" y="160.60" width="4.533" height="20.35" fill="#C8DCE0"/>
<rect x="272.66" y="160.60" width="4.533" height="20.35" fill="#C8DCE0"/>
<rect x="277.15" y="160.60" width="4.533" height="20.35" fill="#D5D8D8"/>
<rect x="281.63" y="160.60" width="4.533" height="20.35" fill="#C8DCE0"/>
<rect x="286.11" y="160.60" width="4.533" height="20.35" fill="#C8DCE0"/>
<rect x="290.60" y="160.60" width="4.533" height="20.35" fill="#D5D8D8"/>
<rect x="295.08" y="160.60" width="4.533" height="20.35" fill="#C8DCE0"/>
<rect x="299.56" y="160.60" width="4.533" height="20.35" fill="#D5D8D8"/>
<rect x="304.05" y="160.60" width="4.533" height="20.35" fill="#DDD5CF"/>
<rect x="308.53" y="160.60" width="4.533" height="20.35" fill="#C8DCE0"/>
<rect x="313.01" y="160.60" width="4.533" height="20.35" fill="#C8DCE0"/>
<rect x="317.50" y="160.60" width="4.533" height="20.35" fill="#EFB198"/>
<rect x="321.98" y="160.60" width="4.533" height="20.35" fill="#EFB198"/>
<rect x="326.46" y="160.60" width="4.533" height="20.35" fill="#C8DCE0"/>
<rect x="330.94" y="160.60" width="4.533" height="20.35" fill="#C8DCE0"/>
<rect x="335.43" y="160.60" width="4.533" height="20.35" fill="#C8DCE0"/>
<rect x="339.91" y="160.60" width="4.533" height="20.35" fill="#C8DCE0"/>
<rect x="344.39" y="160.60" width="4.533" height="20.35" fill="#D5D8D8"/>
<rect x="348.88" y="160.60" width="4.533" height="20.35" fill="#DDD5CF"/>
<rect x="26.10" y="180.90" width="4.533" height="20.35" fill="#BCE0E6"/>
<rect x="30.58" y="180.90" width="4.533" height="20.35" fill="#C8DCE0"/>
<rect x="35.07" y="180.90" width="4.533" height="20.35" fill="#BCE0E6"/>
<rect x="39.55" y="180.90" width="4.533" height="20.35" fill="#BCE0E6"/>
<rect x="44.03" y="180.90" width="4.533" height="20.35" fill="#BCE0E6"/>
<rect x="48.52" y="180.90" width="4.533" height="20.35" fill="#C8DCE0"/>
<rect x="53.00" y="180.90" width="4.533" height="20.35" fill="#BCE0E6"/>
<rect x="57.48" y="180.90" width="4.533" height="20.35" fill="#BCE0E6"/>
<rect x="61.96" y="180.90" width="4.533" height="20.35" fill="#BCE0E6"/>
<rect x="66.45" y="180.90" width="4.533" height="20.35" fill="#C8DCE0"/>
<rect x="70.93" y="180.90" width="4.533" height="20.35" fill="#C8DCE0"/>
<rect x="75.41" y="180.90" width="4.533" height="20.35" fill="#BCE0E6"/>
<rect x="79.90" y="180.90" width="4.533" height="20.35" fill="#BCE0E6"/>
<rect x="84.38" y="180.90" width="4.533" height="20.35" fill="#BCE0E6"/>
<rect x="88.86" y="180.90" width="4.533" height="20.35" fill="#BCE0E6"/>
<rect x="93.34" y="180.90" width="4.533" height="20.35" fill="#C8DCE0"/>
<rect x="97.83" y="180.90" width="4.533" height="20.35" fill="#BCE0E6"/>
<rect x="102.31" y="180.90" width="4.533" height="20.35" fill="#BCE0E6"/>
<rect x="106.79" y="180.90" width="4.533" height="20.35" fill="#EFB198"/>
<rect x="111.28" y="180.90" width="4.533" height="20.35" fill="#EC8C6C"/>
<rect x="115.76" y="180.90" width="4.533" height="20.35" fill="#D5D8D8"/>
<rect x="120.24" y="180.90" width="4.533" height="20.35" fill="#BCE0E6"/>
<rect x="124.73" y="180.90" width="4.533" height="20.35" fill="#C8DCE0"/>
<rect x="129.21" y="180.90" width="4.533" height="20.35" fill="#D5D8D8"/>
<rect x="133.69" y="180.90" width="4.533" height="20.35" fill="#C8DCE0"/>
<rect x="138.17" y="180.90" width="4.533" height="20.35" fill="#BCE0E6"/>
<rect x="142.66" y="180.90" width="4.533" height="20.35" fill="#BCE0E6"/>
<rect x="147.14" y="180.90" width="4.533" height="20.35" fill="#D5D8D8"/>
<rect x="151.62" y="180.90" width="4.533" height="20.35" fill="#C8DCE0"/>
<rect x="156.11" y="180.90" width="4.533" height="20.35" fill="#C8DCE0"/>
<rect x="160.59" y="180.90" width="4.533" height="20.35" fill="#C8DCE0"/>
<rect x="165.07" y="180.90" width="4.533" height="20.35" fill="#F0C8B2"/>
<rect x="169.56" y="180.90" width="4.533" height="20.35" fill="#EC7656"/>
<rect x="174.04" y="180.90" width="4.533" height="20.35" fill="#DDD5CF"/>
<rect x="178.52" y="180.90" width="4.533" height="20.35" fill="#D5D8D8"/>
<rect x="183.00" y="180.90" width="4.533" height="20.35" fill="#F0C8B2"/>
<rect x="187.49" y="180.90" width="4.533" height="20.35" fill="#D5D8D8"/>
<rect x="191.97" y="180.90" width="4.533" height="20.35" fill="#BCE0E6"/>
<rect x="196.45" y="180.90" width="4.533" height="20.35" fill="#F0C8B2"/>
<rect x="200.94" y="180.90" width="4.533" height="20.35" fill="#DDD5CF"/>
<rect x="205.42" y="180.90" width="4.533" height="20.35" fill="#BCE0E6"/>
<rect x="209.90" y="180.90" width="4.533" height="20.35" fill="#C8DCE0"/>
<rect x="214.39" y="180.90" width="4.533" height="20.35" fill="#BCE0E6"/>
<rect x="218.87" y="180.90" width="4.533" height="20.35" fill="#C8DCE0"/>
<rect x="223.35" y="180.90" width="4.533" height="20.35" fill="#DDD5CF"/>
<rect x="227.83" y="180.90" width="4.533" height="20.35" fill="#DDD5CF"/>
<rect x="232.32" y="180.90" width="4.533" height="20.35" fill="#C8DCE0"/>
<rect x="236.80" y="180.90" width="4.533" height="20.35" fill="#EC8C6C"/>
<rect x="241.28" y="180.90" width="4.533" height="20.35" fill="#EFB198"/>
<rect x="245.77" y="180.90" width="4.533" height="20.35" fill="#C8DCE0"/>
<rect x="250.25" y="180.90" width="4.533" height="20.35" fill="#BCE0E6"/>
<rect x="254.73" y="180.90" width="4.533" height="20.35" fill="#D5D8D8"/>
<rect x="259.22" y="180.90" width="4.533" height="20.35" fill="#DDD5CF"/>
<rect x="263.70" y="180.90" width="4.533" height="20.35" fill="#BCE0E6"/>
<rect x="268.18" y="180.90" width="4.533" height="20.35" fill="#EFB198"/>
<rect x="272.66" y="180.90" width="4.533" height="20.35" fill="#EFB198"/>
<rect x="277.15" y="180.90" width="4.533" height="20.35" fill="#D5D8D8"/>
<rect x="281.63" y="180.90" width="4.533" height="20.35" fill="#F0C8B2"/>
<rect x="286.11" y="180.90" width="4.533" height="20.35" fill="#D5D8D8"/>
<rect x="290.60" y="180.90" width="4.533" height="20.35" fill="#BCE0E6"/>
<rect x="295.08" y="180.90" width="4.533" height="20.35" fill="#BCE0E6"/>
<rect x="299.56" y="180.90" width="4.533" height="20.35" fill="#BCE0E6"/>
<rect x="304.05" y="180.90" width="4.533" height="20.35" fill="#BCE0E6"/>
<rect x="308.53" y="180.90" width="4.533" height="20.35" fill="#DDD5CF"/>
<rect x="313.01" y="180.90" width="4.533" height="20.35" fill="#BCE0E6"/>
<rect x="317.50" y="180.90" width="4.533" height="20.35" fill="#BCE0E6"/>
<rect x="321.98" y="180.90" width="4.533" height="20.35" fill="#BCE0E6"/>
<rect x="326.46" y="180.90" width="4.533" height="20.35" fill="#BCE0E6"/>
<rect x="330.94" y="180.90" width="4.533" height="20.35" fill="#EA6542"/>
<rect x="335.43" y="180.90" width="4.533" height="20.35" fill="#DDD5CF"/>
<rect x="339.91" y="180.90" width="4.533" height="20.35" fill="#DDD5CF"/>
<rect x="344.39" y="180.90" width="4.533" height="20.35" fill="#D5D8D8"/>
<rect x="348.88" y="180.90" width="4.533" height="20.35" fill="#BCE0E6"/>
<rect x="26.10" y="201.20" width="4.533" height="20.35" fill="#C8DCE0"/>
<rect x="30.58" y="201.20" width="4.533" height="20.35" fill="#C8DCE0"/>
<rect x="35.07" y="201.20" width="4.533" height="20.35" fill="#C8DCE0"/>
<rect x="39.55" y="201.20" width="4.533" height="20.35" fill="#C8DCE0"/>
<rect x="44.03" y="201.20" width="4.533" height="20.35" fill="#C8DCE0"/>
<rect x="48.52" y="201.20" width="4.533" height="20.35" fill="#C8DCE0"/>
<rect x="53.00" y="201.20" width="4.533" height="20.35" fill="#C8DCE0"/>
<rect x="57.48" y="201.20" width="4.533" height="20.35" fill="#C8DCE0"/>
<rect x="61.96" y="201.20" width="4.533" height="20.35" fill="#C8DCE0"/>
<rect x="66.45" y="201.20" width="4.533" height="20.35" fill="#C8DCE0"/>
<rect x="70.93" y="201.20" width="4.533" height="20.35" fill="#C8DCE0"/>
<rect x="75.41" y="201.20" width="4.533" height="20.35" fill="#C8DCE0"/>
<rect x="79.90" y="201.20" width="4.533" height="20.35" fill="#C8DCE0"/>
<rect x="84.38" y="201.20" width="4.533" height="20.35" fill="#C8DCE0"/>
<rect x="88.86" y="201.20" width="4.533" height="20.35" fill="#C8DCE0"/>
<rect x="93.34" y="201.20" width="4.533" height="20.35" fill="#D5D8D8"/>
<rect x="97.83" y="201.20" width="4.533" height="20.35" fill="#C8DCE0"/>
<rect x="102.31" y="201.20" width="4.533" height="20.35" fill="#D5D8D8"/>
<rect x="106.79" y="201.20" width="4.533" height="20.35" fill="#D5D8D8"/>
<rect x="111.28" y="201.20" width="4.533" height="20.35" fill="#D5D8D8"/>
<rect x="115.76" y="201.20" width="4.533" height="20.35" fill="#C8DCE0"/>
<rect x="120.24" y="201.20" width="4.533" height="20.35" fill="#D5D8D8"/>
<rect x="124.73" y="201.20" width="4.533" height="20.35" fill="#C8DCE0"/>
<rect x="129.21" y="201.20" width="4.533" height="20.35" fill="#D5D8D8"/>
<rect x="133.69" y="201.20" width="4.533" height="20.35" fill="#C8DCE0"/>
<rect x="138.17" y="201.20" width="4.533" height="20.35" fill="#D5D8D8"/>
<rect x="142.66" y="201.20" width="4.533" height="20.35" fill="#F0C8B2"/>
<rect x="147.14" y="201.20" width="4.533" height="20.35" fill="#C8DCE0"/>
<rect x="151.62" y="201.20" width="4.533" height="20.35" fill="#F0C8B2"/>
<rect x="156.11" y="201.20" width="4.533" height="20.35" fill="#DDD5CF"/>
<rect x="160.59" y="201.20" width="4.533" height="20.35" fill="#C8DCE0"/>
<rect x="165.07" y="201.20" width="4.533" height="20.35" fill="#C8DCE0"/>
<rect x="169.56" y="201.20" width="4.533" height="20.35" fill="#C8DCE0"/>
<rect x="174.04" y="201.20" width="4.533" height="20.35" fill="#D5D8D8"/>
<rect x="178.52" y="201.20" width="4.533" height="20.35" fill="#D5D8D8"/>
<rect x="183.00" y="201.20" width="4.533" height="20.35" fill="#C8DCE0"/>
<rect x="187.49" y="201.20" width="4.533" height="20.35" fill="#D5D8D8"/>
<rect x="191.97" y="201.20" width="4.533" height="20.35" fill="#F0C8B2"/>
<rect x="196.45" y="201.20" width="4.533" height="20.35" fill="#D5D8D8"/>
<rect x="200.94" y="201.20" width="4.533" height="20.35" fill="#8A1A2C"/>
<rect x="205.42" y="201.20" width="4.533" height="20.35" fill="#C8DCE0"/>
<rect x="209.90" y="201.20" width="4.533" height="20.35" fill="#D5D8D8"/>
<rect x="214.39" y="201.20" width="4.533" height="20.35" fill="#DDD5CF"/>
<rect x="218.87" y="201.20" width="4.533" height="20.35" fill="#C8DCE0"/>
<rect x="223.35" y="201.20" width="4.533" height="20.35" fill="#D5D8D8"/>
<rect x="227.83" y="201.20" width="4.533" height="20.35" fill="#DDD5CF"/>
<rect x="232.32" y="201.20" width="4.533" height="20.35" fill="#C8DCE0"/>
<rect x="236.80" y="201.20" width="4.533" height="20.35" fill="#D5D8D8"/>
<rect x="241.28" y="201.20" width="4.533" height="20.35" fill="#D5D8D8"/>
<rect x="245.77" y="201.20" width="4.533" height="20.35" fill="#C8DCE0"/>
<rect x="250.25" y="201.20" width="4.533" height="20.35" fill="#D5D8D8"/>
<rect x="254.73" y="201.20" width="4.533" height="20.35" fill="#EC8C6C"/>
<rect x="259.22" y="201.20" width="4.533" height="20.35" fill="#D5D8D8"/>
<rect x="263.70" y="201.20" width="4.533" height="20.35" fill="#D5D8D8"/>
<rect x="268.18" y="201.20" width="4.533" height="20.35" fill="#C8DCE0"/>
<rect x="272.66" y="201.20" width="4.533" height="20.35" fill="#F0C8B2"/>
<rect x="277.15" y="201.20" width="4.533" height="20.35" fill="#C8DCE0"/>
<rect x="281.63" y="201.20" width="4.533" height="20.35" fill="#D5D8D8"/>
<rect x="286.11" y="201.20" width="4.533" height="20.35" fill="#C8DCE0"/>
<rect x="290.60" y="201.20" width="4.533" height="20.35" fill="#C8DCE0"/>
<rect x="295.08" y="201.20" width="4.533" height="20.35" fill="#D5D8D8"/>
<rect x="299.56" y="201.20" width="4.533" height="20.35" fill="#D5D8D8"/>
<rect x="304.05" y="201.20" width="4.533" height="20.35" fill="#C8DCE0"/>
<rect x="308.53" y="201.20" width="4.533" height="20.35" fill="#DDD5CF"/>
<rect x="313.01" y="201.20" width="4.533" height="20.35" fill="#C8DCE0"/>
<rect x="317.50" y="201.20" width="4.533" height="20.35" fill="#C8DCE0"/>
<rect x="321.98" y="201.20" width="4.533" height="20.35" fill="#C8DCE0"/>
<rect x="326.46" y="201.20" width="4.533" height="20.35" fill="#D5D8D8"/>
<rect x="330.94" y="201.20" width="4.533" height="20.35" fill="#C8DCE0"/>
<rect x="335.43" y="201.20" width="4.533" height="20.35" fill="#D5D8D8"/>
<rect x="339.91" y="201.20" width="4.533" height="20.35" fill="#D5D8D8"/>
<rect x="344.39" y="201.20" width="4.533" height="20.35" fill="#C8DCE0"/>
<rect x="348.88" y="201.20" width="4.533" height="20.35" fill="#EC8C6C"/>
<rect x="26.10" y="221.50" width="4.533" height="20.35" fill="#BCE0E6"/>
<rect x="30.58" y="221.50" width="4.533" height="20.35" fill="#BCE0E6"/>
<rect x="35.07" y="221.50" width="4.533" height="20.35" fill="#BCE0E6"/>
<rect x="39.55" y="221.50" width="4.533" height="20.35" fill="#BCE0E6"/>
<rect x="44.03" y="221.50" width="4.533" height="20.35" fill="#C8DCE0"/>
<rect x="48.52" y="221.50" width="4.533" height="20.35" fill="#F0C8B2"/>
<rect x="53.00" y="221.50" width="4.533" height="20.35" fill="#BCE0E6"/>
<rect x="57.48" y="221.50" width="4.533" height="20.35" fill="#BCE0E6"/>
<rect x="61.96" y="221.50" width="4.533" height="20.35" fill="#BCE0E6"/>
<rect x="66.45" y="221.50" width="4.533" height="20.35" fill="#C8DCE0"/>
<rect x="70.93" y="221.50" width="4.533" height="20.35" fill="#BCE0E6"/>
<rect x="75.41" y="221.50" width="4.533" height="20.35" fill="#BCE0E6"/>
<rect x="79.90" y="221.50" width="4.533" height="20.35" fill="#C8DCE0"/>
<rect x="84.38" y="221.50" width="4.533" height="20.35" fill="#BCE0E6"/>
<rect x="88.86" y="221.50" width="4.533" height="20.35" fill="#BCE0E6"/>
<rect x="93.34" y="221.50" width="4.533" height="20.35" fill="#D5D8D8"/>
<rect x="97.83" y="221.50" width="4.533" height="20.35" fill="#F0C8B2"/>
<rect x="102.31" y="221.50" width="4.533" height="20.35" fill="#EFB198"/>
<rect x="106.79" y="221.50" width="4.533" height="20.35" fill="#D5D8D8"/>
<rect x="111.28" y="221.50" width="4.533" height="20.35" fill="#C8DCE0"/>
<rect x="115.76" y="221.50" width="4.533" height="20.35" fill="#C8DCE0"/>
<rect x="120.24" y="221.50" width="4.533" height="20.35" fill="#C8DCE0"/>
<rect x="124.73" y="221.50" width="4.533" height="20.35" fill="#F0C8B2"/>
<rect x="129.21" y="221.50" width="4.533" height="20.35" fill="#BCE0E6"/>
<rect x="133.69" y="221.50" width="4.533" height="20.35" fill="#DC4433"/>
<rect x="138.17" y="221.50" width="4.533" height="20.35" fill="#D5D8D8"/>
<rect x="142.66" y="221.50" width="4.533" height="20.35" fill="#F0C8B2"/>
<rect x="147.14" y="221.50" width="4.533" height="20.35" fill="#C8DCE0"/>
<rect x="151.62" y="221.50" width="4.533" height="20.35" fill="#C8DCE0"/>
<rect x="156.11" y="221.50" width="4.533" height="20.35" fill="#EFB198"/>
<rect x="160.59" y="221.50" width="4.533" height="20.35" fill="#D5D8D8"/>
<rect x="165.07" y="221.50" width="4.533" height="20.35" fill="#C8DCE0"/>
<rect x="169.56" y="221.50" width="4.533" height="20.35" fill="#F0C8B2"/>
<rect x="174.04" y="221.50" width="4.533" height="20.35" fill="#D5D8D8"/>
<rect x="178.52" y="221.50" width="4.533" height="20.35" fill="#C8DCE0"/>
<rect x="183.00" y="221.50" width="4.533" height="20.35" fill="#D5D8D8"/>
<rect x="187.49" y="221.50" width="4.533" height="20.35" fill="#BCE0E6"/>
<rect x="191.97" y="221.50" width="4.533" height="20.35" fill="#F0C8B2"/>
<rect x="196.45" y="221.50" width="4.533" height="20.35" fill="#C8DCE0"/>
<rect x="200.94" y="221.50" width="4.533" height="20.35" fill="#DDD5CF"/>
<rect x="205.42" y="221.50" width="4.533" height="20.35" fill="#D5D8D8"/>
<rect x="209.90" y="221.50" width="4.533" height="20.35" fill="#C8DCE0"/>
<rect x="214.39" y="221.50" width="4.533" height="20.35" fill="#BCE0E6"/>
<rect x="218.87" y="221.50" width="4.533" height="20.35" fill="#C8DCE0"/>
<rect x="223.35" y="221.50" width="4.533" height="20.35" fill="#D5D8D8"/>
<rect x="227.83" y="221.50" width="4.533" height="20.35" fill="#C8DCE0"/>
<rect x="232.32" y="221.50" width="4.533" height="20.35" fill="#C8DCE0"/>
<rect x="236.80" y="221.50" width="4.533" height="20.35" fill="#F0C8B2"/>
<rect x="241.28" y="221.50" width="4.533" height="20.35" fill="#DDD5CF"/>
<rect x="245.77" y="221.50" width="4.533" height="20.35" fill="#BCE0E6"/>
<rect x="250.25" y="221.50" width="4.533" height="20.35" fill="#C8DCE0"/>
<rect x="254.73" y="221.50" width="4.533" height="20.35" fill="#D5D8D8"/>
<rect x="259.22" y="221.50" width="4.533" height="20.35" fill="#D5D8D8"/>
<rect x="263.70" y="221.50" width="4.533" height="20.35" fill="#DDD5CF"/>
<rect x="268.18" y="221.50" width="4.533" height="20.35" fill="#EA6542"/>
<rect x="272.66" y="221.50" width="4.533" height="20.35" fill="#C8DCE0"/>
<rect x="277.15" y="221.50" width="4.533" height="20.35" fill="#C8DCE0"/>
<rect x="281.63" y="221.50" width="4.533" height="20.35" fill="#D5D8D8"/>
<rect x="286.11" y="221.50" width="4.533" height="20.35" fill="#D5D8D8"/>
<rect x="290.60" y="221.50" width="4.533" height="20.35" fill="#C8DCE0"/>
<rect x="295.08" y="221.50" width="4.533" height="20.35" fill="#F0C8B2"/>
<rect x="299.56" y="221.50" width="4.533" height="20.35" fill="#C8DCE0"/>
<rect x="304.05" y="221.50" width="4.533" height="20.35" fill="#BCE0E6"/>
<rect x="308.53" y="221.50" width="4.533" height="20.35" fill="#D5D8D8"/>
<rect x="313.01" y="221.50" width="4.533" height="20.35" fill="#D5D8D8"/>
<rect x="317.50" y="221.50" width="4.533" height="20.35" fill="#D5D8D8"/>
<rect x="321.98" y="221.50" width="4.533" height="20.35" fill="#C8DCE0"/>
<rect x="326.46" y="221.50" width="4.533" height="20.35" fill="#C8DCE0"/>
<rect x="330.94" y="221.50" width="4.533" height="20.35" fill="#D5D8D8"/>
<rect x="335.43" y="221.50" width="4.533" height="20.35" fill="#EFB198"/>
<rect x="339.91" y="221.50" width="4.533" height="20.35" fill="#EA6542"/>
<rect x="344.39" y="221.50" width="4.533" height="20.35" fill="#D5D8D8"/>
<rect x="348.88" y="221.50" width="4.533" height="20.35" fill="#BCE0E6"/>
<rect x="26.10" y="241.80" width="4.533" height="20.35" fill="#BCE0E6"/>
<rect x="30.58" y="241.80" width="4.533" height="20.35" fill="#D5D8D8"/>
<rect x="35.07" y="241.80" width="4.533" height="20.35" fill="#EC8C6C"/>
<rect x="39.55" y="241.80" width="4.533" height="20.35" fill="#BCE0E6"/>
<rect x="44.03" y="241.80" width="4.533" height="20.35" fill="#EFB198"/>
<rect x="48.52" y="241.80" width="4.533" height="20.35" fill="#F0C8B2"/>
<rect x="53.00" y="241.80" width="4.533" height="20.35" fill="#D5D8D8"/>
<rect x="57.48" y="241.80" width="4.533" height="20.35" fill="#EFB198"/>
<rect x="61.96" y="241.80" width="4.533" height="20.35" fill="#F0C8B2"/>
<rect x="66.45" y="241.80" width="4.533" height="20.35" fill="#C8DCE0"/>
<rect x="70.93" y="241.80" width="4.533" height="20.35" fill="#DDD5CF"/>
<rect x="75.41" y="241.80" width="4.533" height="20.35" fill="#EC8C6C"/>
<rect x="79.90" y="241.80" width="4.533" height="20.35" fill="#EFB198"/>
<rect x="84.38" y="241.80" width="4.533" height="20.35" fill="#F0C8B2"/>
<rect x="88.86" y="241.80" width="4.533" height="20.35" fill="#EFB198"/>
<rect x="93.34" y="241.80" width="4.533" height="20.35" fill="#D5D8D8"/>
<rect x="97.83" y="241.80" width="4.533" height="20.35" fill="#BCE0E6"/>
<rect x="102.31" y="241.80" width="4.533" height="20.35" fill="#DDD5CF"/>
<rect x="106.79" y="241.80" width="4.533" height="20.35" fill="#BCE0E6"/>
<rect x="111.28" y="241.80" width="4.533" height="20.35" fill="#C8DCE0"/>
<rect x="115.76" y="241.80" width="4.533" height="20.35" fill="#C8DCE0"/>
<rect x="120.24" y="241.80" width="4.533" height="20.35" fill="#EFB198"/>
<rect x="124.73" y="241.80" width="4.533" height="20.35" fill="#BCE0E6"/>
<rect x="129.21" y="241.80" width="4.533" height="20.35" fill="#BCE0E6"/>
<rect x="133.69" y="241.80" width="4.533" height="20.35" fill="#C8DCE0"/>
<rect x="138.17" y="241.80" width="4.533" height="20.35" fill="#BCE0E6"/>
<rect x="142.66" y="241.80" width="4.533" height="20.35" fill="#D5D8D8"/>
<rect x="147.14" y="241.80" width="4.533" height="20.35" fill="#F0C8B2"/>
<rect x="151.62" y="241.80" width="4.533" height="20.35" fill="#BCE0E6"/>
<rect x="156.11" y="241.80" width="4.533" height="20.35" fill="#EFB198"/>
<rect x="160.59" y="241.80" width="4.533" height="20.35" fill="#BCE0E6"/>
<rect x="165.07" y="241.80" width="4.533" height="20.35" fill="#BCE0E6"/>
<rect x="169.56" y="241.80" width="4.533" height="20.35" fill="#BCE0E6"/>
<rect x="174.04" y="241.80" width="4.533" height="20.35" fill="#D5D8D8"/>
<rect x="178.52" y="241.80" width="4.533" height="20.35" fill="#BCE0E6"/>
<rect x="183.00" y="241.80" width="4.533" height="20.35" fill="#D5D8D8"/>
<rect x="187.49" y="241.80" width="4.533" height="20.35" fill="#D5D8D8"/>
<rect x="191.97" y="241.80" width="4.533" height="20.35" fill="#BCE0E6"/>
<rect x="196.45" y="241.80" width="4.533" height="20.35" fill="#BCE0E6"/>
<rect x="200.94" y="241.80" width="4.533" height="20.35" fill="#C8DCE0"/>
<rect x="205.42" y="241.80" width="4.533" height="20.35" fill="#D5D8D8"/>
<rect x="209.90" y="241.80" width="4.533" height="20.35" fill="#F0C8B2"/>
<rect x="214.39" y="241.80" width="4.533" height="20.35" fill="#BCE0E6"/>
<rect x="218.87" y="241.80" width="4.533" height="20.35" fill="#BCE0E6"/>
<rect x="223.35" y="241.80" width="4.533" height="20.35" fill="#D5D8D8"/>
<rect x="227.83" y="241.80" width="4.533" height="20.35" fill="#C8DCE0"/>
<rect x="232.32" y="241.80" width="4.533" height="20.35" fill="#D5D8D8"/>
<rect x="236.80" y="241.80" width="4.533" height="20.35" fill="#BCE0E6"/>
<rect x="241.28" y="241.80" width="4.533" height="20.35" fill="#C8DCE0"/>
<rect x="245.77" y="241.80" width="4.533" height="20.35" fill="#EFB198"/>
<rect x="250.25" y="241.80" width="4.533" height="20.35" fill="#DDD5CF"/>
<rect x="254.73" y="241.80" width="4.533" height="20.35" fill="#BCE0E6"/>
<rect x="259.22" y="241.80" width="4.533" height="20.35" fill="#D5D8D8"/>
<rect x="263.70" y="241.80" width="4.533" height="20.35" fill="#D5D8D8"/>
<rect x="268.18" y="241.80" width="4.533" height="20.35" fill="#BCE0E6"/>
<rect x="272.66" y="241.80" width="4.533" height="20.35" fill="#C8DCE0"/>
<rect x="277.15" y="241.80" width="4.533" height="20.35" fill="#C8DCE0"/>
<rect x="281.63" y="241.80" width="4.533" height="20.35" fill="#D5D8D8"/>
<rect x="286.11" y="241.80" width="4.533" height="20.35" fill="#C8DCE0"/>
<rect x="290.60" y="241.80" width="4.533" height="20.35" fill="#C8DCE0"/>
<rect x="295.08" y="241.80" width="4.533" height="20.35" fill="#BCE0E6"/>
<rect x="299.56" y="241.80" width="4.533" height="20.35" fill="#BCE0E6"/>
<rect x="304.05" y="241.80" width="4.533" height="20.35" fill="#C8DCE0"/>
<rect x="308.53" y="241.80" width="4.533" height="20.35" fill="#D5D8D8"/>
<rect x="313.01" y="241.80" width="4.533" height="20.35" fill="#EFB198"/>
<rect x="317.50" y="241.80" width="4.533" height="20.35" fill="#C8DCE0"/>
<rect x="321.98" y="241.80" width="4.533" height="20.35" fill="#BCE0E6"/>
<rect x="326.46" y="241.80" width="4.533" height="20.35" fill="#F0C8B2"/>
<rect x="330.94" y="241.80" width="4.533" height="20.35" fill="#BCE0E6"/>
<rect x="335.43" y="241.80" width="4.533" height="20.35" fill="#BCE0E6"/>
<rect x="339.91" y="241.80" width="4.533" height="20.35" fill="#C8DCE0"/>
<rect x="344.39" y="241.80" width="4.533" height="20.35" fill="#D5D8D8"/>
<rect x="348.88" y="241.80" width="4.533" height="20.35" fill="#EC8C6C"/>
<rect x="26.10" y="262.10" width="4.533" height="20.35" fill="#D5D8D8"/>
<rect x="30.58" y="262.10" width="4.533" height="20.35" fill="#EA6542"/>
<rect x="35.07" y="262.10" width="4.533" height="20.35" fill="#C8DCE0"/>
<rect x="39.55" y="262.10" width="4.533" height="20.35" fill="#EC8C6C"/>
<rect x="44.03" y="262.10" width="4.533" height="20.35" fill="#C8DCE0"/>
<rect x="48.52" y="262.10" width="4.533" height="20.35" fill="#DC4433"/>
<rect x="53.00" y="262.10" width="4.533" height="20.35" fill="#D5D8D8"/>
<rect x="57.48" y="262.10" width="4.533" height="20.35" fill="#C8DCE0"/>
<rect x="61.96" y="262.10" width="4.533" height="20.35" fill="#D5D8D8"/>
<rect x="66.45" y="262.10" width="4.533" height="20.35" fill="#EA6542"/>
<rect x="70.93" y="262.10" width="4.533" height="20.35" fill="#C8DCE0"/>
<rect x="75.41" y="262.10" width="4.533" height="20.35" fill="#C8DCE0"/>
<rect x="79.90" y="262.10" width="4.533" height="20.35" fill="#C8DCE0"/>
<rect x="84.38" y="262.10" width="4.533" height="20.35" fill="#D5D8D8"/>
<rect x="88.86" y="262.10" width="4.533" height="20.35" fill="#C8DCE0"/>
<rect x="93.34" y="262.10" width="4.533" height="20.35" fill="#D5D8D8"/>
<rect x="97.83" y="262.10" width="4.533" height="20.35" fill="#C8DCE0"/>
<rect x="102.31" y="262.10" width="4.533" height="20.35" fill="#EFB198"/>
<rect x="106.79" y="262.10" width="4.533" height="20.35" fill="#C8DCE0"/>
<rect x="111.28" y="262.10" width="4.533" height="20.35" fill="#C8DCE0"/>
<rect x="115.76" y="262.10" width="4.533" height="20.35" fill="#D5D8D8"/>
<rect x="120.24" y="262.10" width="4.533" height="20.35" fill="#D5D8D8"/>
<rect x="124.73" y="262.10" width="4.533" height="20.35" fill="#C8DCE0"/>
<rect x="129.21" y="262.10" width="4.533" height="20.35" fill="#C8DCE0"/>
<rect x="133.69" y="262.10" width="4.533" height="20.35" fill="#DC4433"/>
<rect x="138.17" y="262.10" width="4.533" height="20.35" fill="#C8DCE0"/>
<rect x="142.66" y="262.10" width="4.533" height="20.35" fill="#D5D8D8"/>
<rect x="147.14" y="262.10" width="4.533" height="20.35" fill="#C8DCE0"/>
<rect x="151.62" y="262.10" width="4.533" height="20.35" fill="#C8DCE0"/>
<rect x="156.11" y="262.10" width="4.533" height="20.35" fill="#DDD5CF"/>
<rect x="160.59" y="262.10" width="4.533" height="20.35" fill="#C8DCE0"/>
<rect x="165.07" y="262.10" width="4.533" height="20.35" fill="#C8DCE0"/>
<rect x="169.56" y="262.10" width="4.533" height="20.35" fill="#C8DCE0"/>
<rect x="174.04" y="262.10" width="4.533" height="20.35" fill="#C8DCE0"/>
<rect x="178.52" y="262.10" width="4.533" height="20.35" fill="#C8DCE0"/>
<rect x="183.00" y="262.10" width="4.533" height="20.35" fill="#D5D8D8"/>
<rect x="187.49" y="262.10" width="4.533" height="20.35" fill="#C8DCE0"/>
<rect x="191.97" y="262.10" width="4.533" height="20.35" fill="#D5D8D8"/>
<rect x="196.45" y="262.10" width="4.533" height="20.35" fill="#D5D8D8"/>
<rect x="200.94" y="262.10" width="4.533" height="20.35" fill="#C8DCE0"/>
<rect x="205.42" y="262.10" width="4.533" height="20.35" fill="#C8DCE0"/>
<rect x="209.90" y="262.10" width="4.533" height="20.35" fill="#D5D8D8"/>
<rect x="214.39" y="262.10" width="4.533" height="20.35" fill="#C8DCE0"/>
<rect x="218.87" y="262.10" width="4.533" height="20.35" fill="#D5D8D8"/>
<rect x="223.35" y="262.10" width="4.533" height="20.35" fill="#C8DCE0"/>
<rect x="227.83" y="262.10" width="4.533" height="20.35" fill="#D5D8D8"/>
<rect x="232.32" y="262.10" width="4.533" height="20.35" fill="#D5D8D8"/>
<rect x="236.80" y="262.10" width="4.533" height="20.35" fill="#C8DCE0"/>
<rect x="241.28" y="262.10" width="4.533" height="20.35" fill="#EFB198"/>
<rect x="245.77" y="262.10" width="4.533" height="20.35" fill="#C8DCE0"/>
<rect x="250.25" y="262.10" width="4.533" height="20.35" fill="#C8DCE0"/>
<rect x="254.73" y="262.10" width="4.533" height="20.35" fill="#C8DCE0"/>
<rect x="259.22" y="262.10" width="4.533" height="20.35" fill="#C8DCE0"/>
<rect x="263.70" y="262.10" width="4.533" height="20.35" fill="#C8DCE0"/>
<rect x="268.18" y="262.10" width="4.533" height="20.35" fill="#C8DCE0"/>
<rect x="272.66" y="262.10" width="4.533" height="20.35" fill="#C8DCE0"/>
<rect x="277.15" y="262.10" width="4.533" height="20.35" fill="#C8DCE0"/>
<rect x="281.63" y="262.10" width="4.533" height="20.35" fill="#C8DCE0"/>
<rect x="286.11" y="262.10" width="4.533" height="20.35" fill="#C8DCE0"/>
<rect x="290.60" y="262.10" width="4.533" height="20.35" fill="#C8DCE0"/>
<rect x="295.08" y="262.10" width="4.533" height="20.35" fill="#C8DCE0"/>
<rect x="299.56" y="262.10" width="4.533" height="20.35" fill="#C8DCE0"/>
<rect x="304.05" y="262.10" width="4.533" height="20.35" fill="#C8DCE0"/>
<rect x="308.53" y="262.10" width="4.533" height="20.35" fill="#D5D8D8"/>
<rect x="313.01" y="262.10" width="4.533" height="20.35" fill="#C8DCE0"/>
<rect x="317.50" y="262.10" width="4.533" height="20.35" fill="#D5D8D8"/>
<rect x="321.98" y="262.10" width="4.533" height="20.35" fill="#D5D8D8"/>
<rect x="326.46" y="262.10" width="4.533" height="20.35" fill="#D5D8D8"/>
<rect x="330.94" y="262.10" width="4.533" height="20.35" fill="#D5D8D8"/>
<rect x="335.43" y="262.10" width="4.533" height="20.35" fill="#DDD5CF"/>
<rect x="339.91" y="262.10" width="4.533" height="20.35" fill="#C8DCE0"/>
<rect x="344.39" y="262.10" width="4.533" height="20.35" fill="#C8DCE0"/>
<rect x="348.88" y="262.10" width="4.533" height="20.35" fill="#C8DCE0"/>
<rect x="26.10" y="282.40" width="4.533" height="20.35" fill="#D5D8D8"/>
<rect x="30.58" y="282.40" width="4.533" height="20.35" fill="#EFB198"/>
<rect x="35.07" y="282.40" width="4.533" height="20.35" fill="#C8DCE0"/>
<rect x="39.55" y="282.40" width="4.533" height="20.35" fill="#EFB198"/>
<rect x="44.03" y="282.40" width="4.533" height="20.35" fill="#D5D8D8"/>
<rect x="48.52" y="282.40" width="4.533" height="20.35" fill="#6A0F2A"/>
<rect x="53.00" y="282.40" width="4.533" height="20.35" fill="#C8DCE0"/>
<rect x="57.48" y="282.40" width="4.533" height="20.35" fill="#C8DCE0"/>
<rect x="61.96" y="282.40" width="4.533" height="20.35" fill="#C8DCE0"/>
<rect x="66.45" y="282.40" width="4.533" height="20.35" fill="#F0C8B2"/>
<rect x="70.93" y="282.40" width="4.533" height="20.35" fill="#C8DCE0"/>
<rect x="75.41" y="282.40" width="4.533" height="20.35" fill="#C8DCE0"/>
<rect x="79.90" y="282.40" width="4.533" height="20.35" fill="#D5D8D8"/>
<rect x="84.38" y="282.40" width="4.533" height="20.35" fill="#C8DCE0"/>
<rect x="88.86" y="282.40" width="4.533" height="20.35" fill="#C8DCE0"/>
<rect x="93.34" y="282.40" width="4.533" height="20.35" fill="#D5D8D8"/>
<rect x="97.83" y="282.40" width="4.533" height="20.35" fill="#D5D8D8"/>
<rect x="102.31" y="282.40" width="4.533" height="20.35" fill="#F0C8B2"/>
<rect x="106.79" y="282.40" width="4.533" height="20.35" fill="#C8DCE0"/>
<rect x="111.28" y="282.40" width="4.533" height="20.35" fill="#C8DCE0"/>
<rect x="115.76" y="282.40" width="4.533" height="20.35" fill="#C8DCE0"/>
<rect x="120.24" y="282.40" width="4.533" height="20.35" fill="#C8DCE0"/>
<rect x="124.73" y="282.40" width="4.533" height="20.35" fill="#C8DCE0"/>
<rect x="129.21" y="282.40" width="4.533" height="20.35" fill="#C8DCE0"/>
<rect x="133.69" y="282.40" width="4.533" height="20.35" fill="#C8DCE0"/>
<rect x="138.17" y="282.40" width="4.533" height="20.35" fill="#C8DCE0"/>
<rect x="142.66" y="282.40" width="4.533" height="20.35" fill="#C8DCE0"/>
<rect x="147.14" y="282.40" width="4.533" height="20.35" fill="#C8DCE0"/>
<rect x="151.62" y="282.40" width="4.533" height="20.35" fill="#D5D8D8"/>
<rect x="156.11" y="282.40" width="4.533" height="20.35" fill="#EFB198"/>
<rect x="160.59" y="282.40" width="4.533" height="20.35" fill="#C8DCE0"/>
<rect x="165.07" y="282.40" width="4.533" height="20.35" fill="#F0C8B2"/>
<rect x="169.56" y="282.40" width="4.533" height="20.35" fill="#C8DCE0"/>
<rect x="174.04" y="282.40" width="4.533" height="20.35" fill="#C8DCE0"/>
<rect x="178.52" y="282.40" width="4.533" height="20.35" fill="#C8DCE0"/>
<rect x="183.00" y="282.40" width="4.533" height="20.35" fill="#DDD5CF"/>
<rect x="187.49" y="282.40" width="4.533" height="20.35" fill="#C8DCE0"/>
<rect x="191.97" y="282.40" width="4.533" height="20.35" fill="#C8DCE0"/>
<rect x="196.45" y="282.40" width="4.533" height="20.35" fill="#C8DCE0"/>
<rect x="200.94" y="282.40" width="4.533" height="20.35" fill="#C8DCE0"/>
<rect x="205.42" y="282.40" width="4.533" height="20.35" fill="#D5D8D8"/>
<rect x="209.90" y="282.40" width="4.533" height="20.35" fill="#D5D8D8"/>
<rect x="214.39" y="282.40" width="4.533" height="20.35" fill="#C8DCE0"/>
<rect x="218.87" y="282.40" width="4.533" height="20.35" fill="#DDD5CF"/>
<rect x="223.35" y="282.40" width="4.533" height="20.35" fill="#C8DCE0"/>
<rect x="227.83" y="282.40" width="4.533" height="20.35" fill="#D5D8D8"/>
<rect x="232.32" y="282.40" width="4.533" height="20.35" fill="#DDD5CF"/>
<rect x="236.80" y="282.40" width="4.533" height="20.35" fill="#C8DCE0"/>
<rect x="241.28" y="282.40" width="4.533" height="20.35" fill="#C8DCE0"/>
<rect x="245.77" y="282.40" width="4.533" height="20.35" fill="#C8DCE0"/>
<rect x="250.25" y="282.40" width="4.533" height="20.35" fill="#C8DCE0"/>
<rect x="254.73" y="282.40" width="4.533" height="20.35" fill="#C8DCE0"/>
<rect x="259.22" y="282.40" width="4.533" height="20.35" fill="#D5D8D8"/>
<rect x="263.70" y="282.40" width="4.533" height="20.35" fill="#D5D8D8"/>
<rect x="268.18" y="282.40" width="4.533" height="20.35" fill="#DDD5CF"/>
<rect x="272.66" y="282.40" width="4.533" height="20.35" fill="#D5D8D8"/>
<rect x="277.15" y="282.40" width="4.533" height="20.35" fill="#C8DCE0"/>
<rect x="281.63" y="282.40" width="4.533" height="20.35" fill="#C8DCE0"/>
<rect x="286.11" y="282.40" width="4.533" height="20.35" fill="#C8DCE0"/>
<rect x="290.60" y="282.40" width="4.533" height="20.35" fill="#DDD5CF"/>
<rect x="295.08" y="282.40" width="4.533" height="20.35" fill="#D5D8D8"/>
<rect x="299.56" y="282.40" width="4.533" height="20.35" fill="#D5D8D8"/>
<rect x="304.05" y="282.40" width="4.533" height="20.35" fill="#D5D8D8"/>
<rect x="308.53" y="282.40" width="4.533" height="20.35" fill="#D5D8D8"/>
<rect x="313.01" y="282.40" width="4.533" height="20.35" fill="#C8DCE0"/>
<rect x="317.50" y="282.40" width="4.533" height="20.35" fill="#C8DCE0"/>
<rect x="321.98" y="282.40" width="4.533" height="20.35" fill="#C8DCE0"/>
<rect x="326.46" y="282.40" width="4.533" height="20.35" fill="#D5D8D8"/>
<rect x="330.94" y="282.40" width="4.533" height="20.35" fill="#D5D8D8"/>
<rect x="335.43" y="282.40" width="4.533" height="20.35" fill="#D5D8D8"/>
<rect x="339.91" y="282.40" width="4.533" height="20.35" fill="#C8DCE0"/>
<rect x="344.39" y="282.40" width="4.533" height="20.35" fill="#DDD5CF"/>
<rect x="348.88" y="282.40" width="4.533" height="20.35" fill="#C8DCE0"/>
<line x1="30.58" y1="18.5" x2="30.58" y2="302.70" stroke="#fff" stroke-opacity="0.16" stroke-width="0.4"/>
<line x1="35.07" y1="18.5" x2="35.07" y2="302.70" stroke="#fff" stroke-opacity="0.16" stroke-width="0.4"/>
<line x1="39.55" y1="18.5" x2="39.55" y2="302.70" stroke="#fff" stroke-opacity="0.16" stroke-width="0.4"/>
<line x1="44.03" y1="18.5" x2="44.03" y2="302.70" stroke="#fff" stroke-opacity="0.16" stroke-width="0.4"/>
<line x1="48.52" y1="18.5" x2="48.52" y2="302.70" stroke="#fff" stroke-opacity="0.16" stroke-width="0.4"/>
<line x1="53.00" y1="18.5" x2="53.00" y2="302.70" stroke="#fff" stroke-opacity="0.16" stroke-width="0.4"/>
<line x1="57.48" y1="18.5" x2="57.48" y2="302.70" stroke="#fff" stroke-opacity="0.16" stroke-width="0.4"/>
<line x1="61.96" y1="18.5" x2="61.96" y2="302.70" stroke="#fff" stroke-opacity="0.16" stroke-width="0.4"/>
<line x1="66.45" y1="18.5" x2="66.45" y2="302.70" stroke="#fff" stroke-opacity="0.16" stroke-width="0.4"/>
<line x1="70.93" y1="18.5" x2="70.93" y2="302.70" stroke="#fff" stroke-opacity="0.16" stroke-width="0.4"/>
<line x1="75.41" y1="18.5" x2="75.41" y2="302.70" stroke="#fff" stroke-opacity="0.16" stroke-width="0.4"/>
<line x1="79.90" y1="18.5" x2="79.90" y2="302.70" stroke="#fff" stroke-opacity="0.16" stroke-width="0.4"/>
<line x1="84.38" y1="18.5" x2="84.38" y2="302.70" stroke="#fff" stroke-opacity="0.16" stroke-width="0.4"/>
<line x1="88.86" y1="18.5" x2="88.86" y2="302.70" stroke="#fff" stroke-opacity="0.16" stroke-width="0.4"/>
<line x1="93.34" y1="18.5" x2="93.34" y2="302.70" stroke="#fff" stroke-opacity="0.16" stroke-width="0.4"/>
<line x1="97.83" y1="18.5" x2="97.83" y2="302.70" stroke="#fff" stroke-opacity="0.16" stroke-width="0.4"/>
<line x1="102.31" y1="18.5" x2="102.31" y2="302.70" stroke="#fff" stroke-opacity="0.16" stroke-width="0.4"/>
<line x1="106.79" y1="18.5" x2="106.79" y2="302.70" stroke="#fff" stroke-opacity="0.16" stroke-width="0.4"/>
<line x1="111.28" y1="18.5" x2="111.28" y2="302.70" stroke="#fff" stroke-opacity="0.16" stroke-width="0.4"/>
<line x1="115.76" y1="18.5" x2="115.76" y2="302.70" stroke="#fff" stroke-opacity="0.16" stroke-width="0.4"/>
<line x1="120.24" y1="18.5" x2="120.24" y2="302.70" stroke="#fff" stroke-opacity="0.16" stroke-width="0.4"/>
<line x1="124.73" y1="18.5" x2="124.73" y2="302.70" stroke="#fff" stroke-opacity="0.16" stroke-width="0.4"/>
<line x1="129.21" y1="18.5" x2="129.21" y2="302.70" stroke="#fff" stroke-opacity="0.16" stroke-width="0.4"/>
<line x1="133.69" y1="18.5" x2="133.69" y2="302.70" stroke="#fff" stroke-opacity="0.16" stroke-width="0.4"/>
<line x1="138.17" y1="18.5" x2="138.17" y2="302.70" stroke="#fff" stroke-opacity="0.16" stroke-width="0.4"/>
<line x1="142.66" y1="18.5" x2="142.66" y2="302.70" stroke="#fff" stroke-opacity="0.16" stroke-width="0.4"/>
<line x1="147.14" y1="18.5" x2="147.14" y2="302.70" stroke="#fff" stroke-opacity="0.16" stroke-width="0.4"/>
<line x1="151.62" y1="18.5" x2="151.62" y2="302.70" stroke="#fff" stroke-opacity="0.16" stroke-width="0.4"/>
<line x1="156.11" y1="18.5" x2="156.11" y2="302.70" stroke="#fff" stroke-opacity="0.16" stroke-width="0.4"/>
<line x1="160.59" y1="18.5" x2="160.59" y2="302.70" stroke="#fff" stroke-opacity="0.16" stroke-width="0.4"/>
<line x1="165.07" y1="18.5" x2="165.07" y2="302.70" stroke="#fff" stroke-opacity="0.16" stroke-width="0.4"/>
<line x1="169.56" y1="18.5" x2="169.56" y2="302.70" stroke="#fff" stroke-opacity="0.16" stroke-width="0.4"/>
<line x1="174.04" y1="18.5" x2="174.04" y2="302.70" stroke="#fff" stroke-opacity="0.16" stroke-width="0.4"/>
<line x1="178.52" y1="18.5" x2="178.52" y2="302.70" stroke="#fff" stroke-opacity="0.16" stroke-width="0.4"/>
<line x1="183.00" y1="18.5" x2="183.00" y2="302.70" stroke="#fff" stroke-opacity="0.16" stroke-width="0.4"/>
<line x1="187.49" y1="18.5" x2="187.49" y2="302.70" stroke="#fff" stroke-opacity="0.16" stroke-width="0.4"/>
<line x1="191.97" y1="18.5" x2="191.97" y2="302.70" stroke="#fff" stroke-opacity="0.16" stroke-width="0.4"/>
<line x1="196.45" y1="18.5" x2="196.45" y2="302.70" stroke="#fff" stroke-opacity="0.16" stroke-width="0.4"/>
<line x1="200.94" y1="18.5" x2="200.94" y2="302.70" stroke="#fff" stroke-opacity="0.16" stroke-width="0.4"/>
<line x1="205.42" y1="18.5" x2="205.42" y2="302.70" stroke="#fff" stroke-opacity="0.16" stroke-width="0.4"/>
<line x1="209.90" y1="18.5" x2="209.90" y2="302.70" stroke="#fff" stroke-opacity="0.16" stroke-width="0.4"/>
<line x1="214.39" y1="18.5" x2="214.39" y2="302.70" stroke="#fff" stroke-opacity="0.16" stroke-width="0.4"/>
<line x1="218.87" y1="18.5" x2="218.87" y2="302.70" stroke="#fff" stroke-opacity="0.16" stroke-width="0.4"/>
<line x1="223.35" y1="18.5" x2="223.35" y2="302.70" stroke="#fff" stroke-opacity="0.16" stroke-width="0.4"/>
<line x1="227.83" y1="18.5" x2="227.83" y2="302.70" stroke="#fff" stroke-opacity="0.16" stroke-width="0.4"/>
<line x1="232.32" y1="18.5" x2="232.32" y2="302.70" stroke="#fff" stroke-opacity="0.16" stroke-width="0.4"/>
<line x1="236.80" y1="18.5" x2="236.80" y2="302.70" stroke="#fff" stroke-opacity="0.16" stroke-width="0.4"/>
<line x1="241.28" y1="18.5" x2="241.28" y2="302.70" stroke="#fff" stroke-opacity="0.16" stroke-width="0.4"/>
<line x1="245.77" y1="18.5" x2="245.77" y2="302.70" stroke="#fff" stroke-opacity="0.16" stroke-width="0.4"/>
<line x1="250.25" y1="18.5" x2="250.25" y2="302.70" stroke="#fff" stroke-opacity="0.16" stroke-width="0.4"/>
<line x1="254.73" y1="18.5" x2="254.73" y2="302.70" stroke="#fff" stroke-opacity="0.16" stroke-width="0.4"/>
<line x1="259.22" y1="18.5" x2="259.22" y2="302.70" stroke="#fff" stroke-opacity="0.16" stroke-width="0.4"/>
<line x1="263.70" y1="18.5" x2="263.70" y2="302.70" stroke="#fff" stroke-opacity="0.16" stroke-width="0.4"/>
<line x1="268.18" y1="18.5" x2="268.18" y2="302.70" stroke="#fff" stroke-opacity="0.16" stroke-width="0.4"/>
<line x1="272.66" y1="18.5" x2="272.66" y2="302.70" stroke="#fff" stroke-opacity="0.16" stroke-width="0.4"/>
<line x1="277.15" y1="18.5" x2="277.15" y2="302.70" stroke="#fff" stroke-opacity="0.16" stroke-width="0.4"/>
<line x1="281.63" y1="18.5" x2="281.63" y2="302.70" stroke="#fff" stroke-opacity="0.16" stroke-width="0.4"/>
<line x1="286.11" y1="18.5" x2="286.11" y2="302.70" stroke="#fff" stroke-opacity="0.16" stroke-width="0.4"/>
<line x1="290.60" y1="18.5" x2="290.60" y2="302.70" stroke="#fff" stroke-opacity="0.16" stroke-width="0.4"/>
<line x1="295.08" y1="18.5" x2="295.08" y2="302.70" stroke="#fff" stroke-opacity="0.16" stroke-width="0.4"/>
<line x1="299.56" y1="18.5" x2="299.56" y2="302.70" stroke="#fff" stroke-opacity="0.16" stroke-width="0.4"/>
<line x1="304.05" y1="18.5" x2="304.05" y2="302.70" stroke="#fff" stroke-opacity="0.16" stroke-width="0.4"/>
<line x1="308.53" y1="18.5" x2="308.53" y2="302.70" stroke="#fff" stroke-opacity="0.16" stroke-width="0.4"/>
<line x1="313.01" y1="18.5" x2="313.01" y2="302.70" stroke="#fff" stroke-opacity="0.16" stroke-width="0.4"/>
<line x1="317.50" y1="18.5" x2="317.50" y2="302.70" stroke="#fff" stroke-opacity="0.16" stroke-width="0.4"/>
<line x1="321.98" y1="18.5" x2="321.98" y2="302.70" stroke="#fff" stroke-opacity="0.16" stroke-width="0.4"/>
<line x1="326.46" y1="18.5" x2="326.46" y2="302.70" stroke="#fff" stroke-opacity="0.16" stroke-width="0.4"/>
<line x1="330.94" y1="18.5" x2="330.94" y2="302.70" stroke="#fff" stroke-opacity="0.16" stroke-width="0.4"/>
<line x1="335.43" y1="18.5" x2="335.43" y2="302.70" stroke="#fff" stroke-opacity="0.16" stroke-width="0.4"/>
<line x1="339.91" y1="18.5" x2="339.91" y2="302.70" stroke="#fff" stroke-opacity="0.16" stroke-width="0.4"/>
<line x1="344.39" y1="18.5" x2="344.39" y2="302.70" stroke="#fff" stroke-opacity="0.16" stroke-width="0.4"/>
<line x1="348.88" y1="18.5" x2="348.88" y2="302.70" stroke="#fff" stroke-opacity="0.16" stroke-width="0.4"/>
<line x1="26.1" y1="38.80" x2="353.36" y2="38.80" stroke="#fff" stroke-opacity="0.3" stroke-width="0.4"/>
<line x1="26.1" y1="59.10" x2="353.36" y2="59.10" stroke="#fff" stroke-opacity="0.3" stroke-width="0.4"/>
<line x1="26.1" y1="79.40" x2="353.36" y2="79.40" stroke="#fff" stroke-opacity="0.3" stroke-width="0.4"/>
<line x1="26.1" y1="99.70" x2="353.36" y2="99.70" stroke="#fff" stroke-opacity="0.3" stroke-width="0.4"/>
<line x1="26.1" y1="120.00" x2="353.36" y2="120.00" stroke="#fff" stroke-opacity="0.3" stroke-width="0.4"/>
<line x1="26.1" y1="140.30" x2="353.36" y2="140.30" stroke="#fff" stroke-opacity="0.3" stroke-width="0.4"/>
<line x1="26.1" y1="160.60" x2="353.36" y2="160.60" stroke="#fff" stroke-opacity="0.3" stroke-width="0.4"/>
<line x1="26.1" y1="180.90" x2="353.36" y2="180.90" stroke="#fff" stroke-opacity="0.3" stroke-width="0.4"/>
<line x1="26.1" y1="201.20" x2="353.36" y2="201.20" stroke="#fff" stroke-opacity="0.3" stroke-width="0.4"/>
<line x1="26.1" y1="221.50" x2="353.36" y2="221.50" stroke="#fff" stroke-opacity="0.3" stroke-width="0.4"/>
<line x1="26.1" y1="241.80" x2="353.36" y2="241.80" stroke="#fff" stroke-opacity="0.3" stroke-width="0.4"/>
<line x1="26.1" y1="262.10" x2="353.36" y2="262.10" stroke="#fff" stroke-opacity="0.3" stroke-width="0.4"/>
<line x1="26.1" y1="282.40" x2="353.36" y2="282.40" stroke="#fff" stroke-opacity="0.3" stroke-width="0.4"/>
<text transform="translate(356.4,29.90) scale(0.968,1)" x="0" y="0" font-size="9.3" fill="#000" stroke="#000" stroke-width="0.22">Ig mu chain C region (IGHM)</text>
<text transform="translate(356.4,50.43) scale(0.968,1)" x="0" y="0" font-size="9.3" fill="#000" stroke="#000" stroke-width="0.22">Ig kappa chain V−III region NG9</text>
<text transform="translate(356.4,70.96) scale(0.968,1)" x="0" y="0" font-size="9.3" fill="#000" stroke="#000" stroke-width="0.22">Annexin A2 (ANXA2)</text>
<text transform="translate(356.4,91.49) scale(0.968,1)" x="0" y="0" font-size="9.3" fill="#000" stroke="#000" stroke-width="0.22">Immunoglobulin heavy constant alpha 1 (IGHA1)</text>
<text transform="translate(356.4,112.02) scale(0.968,1)" x="0" y="0" font-size="9.3" fill="#000" stroke="#000" stroke-width="0.22">Kallikrein−1 (KLK1)</text>
<text transform="translate(356.4,132.55) scale(0.968,1)" x="0" y="0" font-size="9.3" fill="#000" stroke="#000" stroke-width="0.22">alpha−amylase 2B (AMY2B)</text>
<text transform="translate(356.4,153.08) scale(0.968,1)" x="0" y="0" font-size="9.3" fill="#000" stroke="#000" stroke-width="0.22">Lithostathine−1−beta (REG1B)</text>
<text transform="translate(356.4,173.61) scale(0.968,1)" x="0" y="0" font-size="9.3" fill="#000" stroke="#000" stroke-width="0.22">CELA2A</text>
<text transform="translate(356.4,194.14) scale(0.968,1)" x="0" y="0" font-size="9.3" fill="#000" stroke="#000" stroke-width="0.22">Elastase 3A, pancreatic (ELA3A)</text>
<text transform="translate(356.4,214.67) scale(0.968,1)" x="0" y="0" font-size="9.3" fill="#000" stroke="#000" stroke-width="0.22">Neutrophil defensin (DEFA3)</text>
<text transform="translate(356.4,235.20) scale(0.968,1)" x="0" y="0" font-size="9.3" fill="#000" stroke="#000" stroke-width="0.22">IgGFc−binding protein (FCGBP)</text>
<text transform="translate(356.4,255.73) scale(0.968,1)" x="0" y="0" font-size="9.3" fill="#000" stroke="#000" stroke-width="0.22">chymotrypsin−C isoform X1</text>
<text transform="translate(356.4,276.26) scale(0.968,1)" x="0" y="0" font-size="9.3" fill="#000" stroke="#000" stroke-width="0.22">Isoform Somatic−2 of Angiotensin−converting enzyme (ACE)</text>
<text transform="translate(356.4,296.79) scale(0.968,1)" x="0" y="0" font-size="9.3" fill="#000" stroke="#000" stroke-width="0.22">Tropomyosin alpha−1 chain (TPM1)</text>
<text x="356.4" y="12.2" font-size="9" font-weight="bold" fill="#111" stroke="#111" stroke-width="0.22">type</text>
<defs><linearGradient id="hg" x1="0" y1="0" x2="0" y2="1"><stop offset="0" stop-color="#67001F"/><stop offset="0.02" stop-color="#6B1030"/><stop offset="0.1" stop-color="#A01828"/><stop offset="0.178" stop-color="#D0302A"/><stop offset="0.245" stop-color="#E0503A"/><stop offset="0.29" stop-color="#E86A48"/><stop offset="0.344" stop-color="#EE9070"/><stop offset="0.4" stop-color="#F0C0A8"/><stop offset="0.444" stop-color="#E8D8D0"/><stop offset="0.488" stop-color="#D8D8D8"/><stop offset="0.556" stop-color="#A8DCE8"/><stop offset="0.62" stop-color="#88C0DA"/><stop offset="0.711" stop-color="#5A90C4"/><stop offset="0.8" stop-color="#4A70B0"/><stop offset="0.9" stop-color="#34508A"/><stop offset="1.0" stop-color="#233665"/></linearGradient></defs>
<rect x="577" y="9" width="6" height="90.7" fill="url(#hg)"/>
<text x="585.2" y="28.9" font-size="9.2" fill="#111" stroke="#111" stroke-width="0.22">5</text>
<text x="585.2" y="56.6" font-size="9.2" fill="#111" stroke="#111" stroke-width="0.22">0</text>
<text x="584.7" y="84.3" font-size="9.2" fill="#111" stroke="#111" stroke-width="0.22">-5</text>
<text x="610.6" y="12" font-size="9" font-weight="bold" fill="#111" stroke="#111" stroke-width="0.22">type</text>
<rect x="610.5" y="18.2" width="11.5" height="11.6" fill="#55BF50"/>
<rect x="610.5" y="30" width="11.5" height="11.6" fill="#4660B0"/>
<text x="625.8" y="27.3" font-size="9" fill="#111" stroke="#111" stroke-width="0.22">BD</text>
<text x="625.8" y="39.5" font-size="9" fill="#111" stroke="#111" stroke-width="0.22">HC</text>
<g stroke="#222" stroke-width="0.9" stroke-dasharray="3.6 3">
<line x1="254.3" y1="316.5" x2="254.3" y2="679.5"/>
<line x1="299.5" y1="316.5" x2="299.5" y2="679.5"/>
<line x1="26.5" y1="638.4" x2="360.5" y2="638.4"/>
</g>
<rect x="26.5" y="316.5" width="334.00" height="363.00" fill="none" stroke="#555555" stroke-width="0.9"/>
<line x1="23.8" y1="679.5" x2="26.5" y2="679.5" stroke="#555555" stroke-width="1"/>
<text x="22.6" y="682.60" font-size="8.6" text-anchor="end" fill="#1a1a1a" stroke="#1a1a1a" stroke-width="0.22">0</text>
<line x1="23.8" y1="585.5" x2="26.5" y2="585.5" stroke="#555555" stroke-width="1"/>
<text x="22.6" y="588.60" font-size="8.6" text-anchor="end" fill="#1a1a1a" stroke="#1a1a1a" stroke-width="0.22">3</text>
<line x1="23.8" y1="491.5" x2="26.5" y2="491.5" stroke="#555555" stroke-width="1"/>
<text x="22.6" y="494.60" font-size="8.6" text-anchor="end" fill="#1a1a1a" stroke="#1a1a1a" stroke-width="0.22">6</text>
<line x1="23.8" y1="397.5" x2="26.5" y2="397.5" stroke="#555555" stroke-width="1"/>
<text x="22.6" y="400.60" font-size="8.6" text-anchor="end" fill="#1a1a1a" stroke="#1a1a1a" stroke-width="0.22">9</text>
<line x1="95.5" y1="679.5" x2="95.5" y2="682.3" stroke="#555555" stroke-width="1"/>
<text x="95.5" y="696.9" font-size="8.6" text-anchor="middle" fill="#1a1a1a" stroke="#1a1a1a" stroke-width="0.22">-8</text>
<line x1="186.5" y1="679.5" x2="186.5" y2="682.3" stroke="#555555" stroke-width="1"/>
<text x="186.5" y="696.9" font-size="8.6" text-anchor="middle" fill="#1a1a1a" stroke="#1a1a1a" stroke-width="0.22">-4</text>
<line x1="276.5" y1="679.5" x2="276.5" y2="682.3" stroke="#555555" stroke-width="1"/>
<text x="276.5" y="696.9" font-size="8.6" text-anchor="middle" fill="#1a1a1a" stroke="#1a1a1a" stroke-width="0.22">0</text>
<text x="190.4" y="705.4" font-size="9" text-anchor="middle" fill="#1a1a1a" stroke="#1a1a1a" stroke-width="0.22">Log2(FC)</text>
<text transform="translate(12.9,505.7) rotate(-90)" font-size="9" text-anchor="middle" fill="#1a1a1a" stroke="#1a1a1a" stroke-width="0.22">-log10 (Adiust P-value)</text>
<circle cx="105.4" cy="646.2" r="2.2" fill="#C4C4C4"/>
<circle cx="136.9" cy="643.8" r="2.2" fill="#C4C4C4"/>
<circle cx="155.8" cy="648.6" r="2.2" fill="#C4C4C4"/>
<circle cx="161.4" cy="642.5" r="2.2" fill="#C4C4C4"/>
<circle cx="190.5" cy="638.9" r="2.2" fill="#C4C4C4"/>
<circle cx="208.9" cy="640.7" r="2.2" fill="#C4C4C4"/>
<circle cx="211.2" cy="642.4" r="2.2" fill="#C4C4C4"/>
<circle cx="229.9" cy="646.6" r="2.2" fill="#C4C4C4"/>
<circle cx="219.9" cy="655.9" r="2.2" fill="#C4C4C4"/>
<circle cx="225.2" cy="655.0" r="2.2" fill="#C4C4C4"/>
<circle cx="254.5" cy="628.4" r="2.2" fill="#C4C4C4"/>
<circle cx="258.0" cy="647.7" r="2.2" fill="#C4C4C4"/>
<circle cx="254.5" cy="651.2" r="2.2" fill="#C4C4C4"/>
<circle cx="262.3" cy="650.1" r="2.2" fill="#C4C4C4"/>
<circle cx="265.0" cy="651.2" r="2.2" fill="#C4C4C4"/>
<circle cx="257.1" cy="655.9" r="2.2" fill="#C4C4C4"/>
<circle cx="254.5" cy="657.7" r="2.2" fill="#C4C4C4"/>
<circle cx="266.7" cy="656.4" r="2.2" fill="#C4C4C4"/>
<circle cx="269.3" cy="658.2" r="2.2" fill="#C4C4C4"/>
<circle cx="275.5" cy="662.4" r="2.2" fill="#C4C4C4"/>
<circle cx="278.1" cy="662.9" r="2.2" fill="#C4C4C4"/>
<circle cx="280.7" cy="661.2" r="2.2" fill="#C4C4C4"/>
<circle cx="283.4" cy="659.4" r="2.2" fill="#C4C4C4"/>
<circle cx="286.9" cy="652.4" r="2.2" fill="#C4C4C4"/>
<circle cx="288.6" cy="654.7" r="2.2" fill="#C4C4C4"/>
<circle cx="292.1" cy="648.4" r="2.2" fill="#C4C4C4"/>
<circle cx="294.6" cy="638.6" r="2.2" fill="#C4C4C4"/>
<line x1="94.4" y1="627.6" x2="108" y2="633.3" stroke="#3A5A92" stroke-width="0.8"/>
<line x1="198" y1="629.4" x2="200" y2="646.4" stroke="#3A5A92" stroke-width="0.8"/>
<line x1="300" y1="629.5" x2="301.9" y2="625.8" stroke="#CC1F1A" stroke-width="0.8"/>
<circle cx="41.7" cy="638.2" r="2.2" fill="#3A5A92"/>
<circle cx="109.3" cy="633.6" r="2.2" fill="#3A5A92"/>
<circle cx="135.9" cy="622.0" r="2.2" fill="#3A5A92"/>
<circle cx="192.1" cy="621.6" r="2.2" fill="#3A5A92"/>
<circle cx="196.5" cy="610.8" r="2.2" fill="#3A5A92"/>
<circle cx="198.0" cy="629.2" r="2.2" fill="#3A5A92"/>
<circle cx="232.7" cy="609.1" r="2.2" fill="#3A5A92"/>
<circle cx="345.5" cy="332.7" r="2.2" fill="#CC1F1A"/>
<circle cx="306.4" cy="564.6" r="2.2" fill="#CC1F1A"/>
<circle cx="302.2" cy="625.4" r="2.2" fill="#CC1F1A"/>
<circle cx="303.4" cy="624.8" r="2.2" fill="#CC1F1A"/>
<circle cx="313.4" cy="617.7" r="2.2" fill="#CC1F1A"/>
<circle cx="321.3" cy="632.1" r="2.2" fill="#CC1F1A"/>
<circle cx="329.8" cy="638.2" r="2.2" fill="#CC1F1A"/>
<text x="48.9" y="651.10" font-size="8.9" text-anchor="middle" fill="#3E5E96" stroke="#3E5E96" stroke-width="0.22">CELA2A</text>
<text x="72.5" y="629.20" font-size="8.9" text-anchor="middle" fill="#3E5E96" stroke="#3E5E96" stroke-width="0.22">DEFA3</text>
<text x="130.4" y="616.60" font-size="8.9" text-anchor="middle" fill="#3E5E96" stroke="#3E5E96" stroke-width="0.22">KLK1</text>
<text x="170.9" y="626.00" font-size="8.9" text-anchor="middle" fill="#3E5E96" stroke="#3E5E96" stroke-width="0.22">AMY2B</text>
<text x="189.1" y="603.70" font-size="8.9" text-anchor="middle" fill="#3E5E96" stroke="#3E5E96" stroke-width="0.22">ELA3A</text>
<text x="194.2" y="655.30" font-size="8.9" text-anchor="middle" fill="#3E5E96" stroke="#3E5E96" stroke-width="0.22">REG1B</text>
<text x="233.0" y="603.70" font-size="8.9" text-anchor="middle" fill="#3E5E96" stroke="#3E5E96" stroke-width="0.22">FCGBP</text>
<text x="339.0" y="346.10" font-size="8.9" text-anchor="middle" fill="#CF2B27" stroke="#CF2B27" stroke-width="0.22">IGHM</text>
<text x="286.4" y="556.80" font-size="8.9" text-anchor="middle" fill="#CF2B27" stroke="#CF2B27" stroke-width="0.22">chymotrypsin-C isoform X1</text>
<text x="232.7" y="626.20" font-size="8.9" text-anchor="start" fill="#CF2B27" stroke="#CF2B27" stroke-width="0.22">Ig kappa chain</text>
<text x="232.7" y="636.70" font-size="8.9" text-anchor="start" fill="#CF2B27" stroke="#CF2B27" stroke-width="0.22">V- III region NG9</text>
<text x="324.7" y="613.20" font-size="8.9" text-anchor="middle" fill="#CF2B27" stroke="#CF2B27" stroke-width="0.22">ACE</text>
<text x="339.2" y="629.80" font-size="8.9" text-anchor="middle" fill="#CF2B27" stroke="#CF2B27" stroke-width="0.22">TPM1</text>
<text x="337.9" y="653.20" font-size="8.9" text-anchor="middle" fill="#CF2B27" stroke="#CF2B27" stroke-width="0.22">ANXA2</text>
<text x="376.3" y="479" font-size="9" font-weight="bold" fill="#1a1a1a" stroke="#1a1a1a" stroke-width="0.22">Group</text>
<circle cx="378" cy="489.6" r="2.4" fill="#3A5A92"/>
<circle cx="378" cy="504.3" r="2.4" fill="#C4C4C4"/>
<circle cx="378" cy="520.3" r="2.4" fill="#CC1F1A"/>
<text x="382.9" y="489.1" font-size="9" fill="#1a1a1a" stroke="#1a1a1a" stroke-width="0.22">down-regulated</text>
<text x="382.9" y="505.0" font-size="9" fill="#1a1a1a" stroke="#1a1a1a" stroke-width="0.22">not-significant</text>
<text x="382.9" y="520.9" font-size="9" fill="#1a1a1a" stroke="#1a1a1a" stroke-width="0.22">up-regulated</text>
<line x1="42.3" y1="959.2" x2="280.5" y2="721.2" stroke="#AAAAAA" stroke-width="0.8"/>
<polyline points="51.70,950.20 93.40,729.90 97.60,729.90" fill="none" stroke="#3FE03A" stroke-width="1.25" stroke-linejoin="miter" />
<polyline points="51.70,950.20 97.20,729.90 120.20,729.90" fill="none" stroke="#F22A1E" stroke-width="1.25" stroke-linejoin="miter" />
<polyline points="138.40,759.10 138.40,744.50" fill="none" stroke="#F2F03A" stroke-width="1.25" stroke-linejoin="miter" />
<polyline points="51.70,950.20 101.00,803.20 112.30,803.20 112.30,788.50 135.50,788.50 135.50,774.00 142.70,774.00 142.70,759.10 157.80,759.10 157.80,744.50" fill="none" stroke="#111" stroke-width="1.25" stroke-linejoin="miter" />
<polyline points="169.50,744.50 169.50,729.90" fill="none" stroke="#111" stroke-width="1.25" stroke-linejoin="miter" />
<polyline points="51.70,950.20 59.50,935.50 62.70,935.50 62.70,921.10 70.60,921.10 70.60,891.40 97.40,891.40 97.40,876.70 108.40,876.70 108.40,862.20 116.00,862.20 116.00,832.40 120.30,832.40 120.30,817.50 123.80,817.50 123.80,802.60 127.50,802.60 127.50,759.10 142.70,759.10 142.70,744.50" fill="none" stroke="#7FF3DD" stroke-width="1.25" stroke-linejoin="miter" />
<polyline points="150.30,744.50 150.30,729.90" fill="none" stroke="#7FF3DD" stroke-width="1.25" stroke-linejoin="miter" />
<polyline points="51.70,950.20 51.70,891.70 55.40,891.70 55.40,877.00 62.60,877.00 62.60,862.30 108.30,862.30 108.30,803.20 112.30,803.20 112.30,788.50 123.60,788.50 123.60,774.00 131.30,774.00 131.30,759.10 139.20,759.10 139.20,744.50" fill="none" stroke="#E6D23A" stroke-width="1.25" stroke-linejoin="miter" />
<polyline points="51.70,950.20 139.00,818.00 218.70,818.00 218.70,803.20 241.40,803.20 241.40,788.40 245.70,788.40 245.70,759.00 257.00,759.00 257.00,744.30 272.10,744.30 272.10,729.90" fill="none" stroke="#3A9384" stroke-width="1.25" stroke-linejoin="miter" />
<polyline points="51.70,950.20 55.40,950.20 55.40,906.20 58.90,906.20 58.90,876.70 62.60,876.70 62.60,862.20 66.80,862.20 66.80,847.30 74.00,847.30 74.00,832.40 81.80,832.40 81.80,817.50 86.20,817.50 86.20,802.60 89.40,802.60 89.40,759.10" fill="none" stroke="#AECBEA" stroke-width="1.25" stroke-linejoin="miter" />
<polyline points="119.90,744.50 119.90,729.90 177.60,729.90" fill="none" stroke="#AECBEA" stroke-width="1.25" stroke-linejoin="miter" />
<polyline points="51.70,950.20 51.70,818.00 55.60,818.00 55.60,788.50 81.60,788.50 81.60,774.00 85.30,774.00 85.30,759.10 104.60,759.10 104.60,744.50 177.30,744.50 177.30,729.90 271.70,729.90" fill="none" stroke="#EC8A2E" stroke-width="1.25" stroke-linejoin="miter" />
<rect x="29.8" y="721.2" width="263.60" height="238.00" fill="none" stroke="#9A9A9A" stroke-width="1.2"/>
<line x1="27.2" y1="950.20" x2="29.8" y2="950.20" stroke="#707070" stroke-width="1"/>
<text x="25.6" y="953.40" font-size="9" text-anchor="end" fill="#1a1a1a" stroke="#1a1a1a" stroke-width="0.22">0.0</text>
<line x1="271.70" y1="959.2" x2="271.70" y2="962.2" stroke="#707070" stroke-width="1"/>
<text x="271.70" y="973" font-size="9" text-anchor="middle" fill="#1a1a1a" stroke="#1a1a1a" stroke-width="0.22">0.0</text>
<line x1="27.2" y1="906.14" x2="29.8" y2="906.14" stroke="#707070" stroke-width="1"/>
<text x="25.6" y="909.34" font-size="9" text-anchor="end" fill="#1a1a1a" stroke="#1a1a1a" stroke-width="0.22">0.2</text>
<line x1="227.68" y1="959.2" x2="227.68" y2="962.2" stroke="#707070" stroke-width="1"/>
<text x="227.68" y="973" font-size="9" text-anchor="middle" fill="#1a1a1a" stroke="#1a1a1a" stroke-width="0.22">0.2</text>
<line x1="27.2" y1="862.08" x2="29.8" y2="862.08" stroke="#707070" stroke-width="1"/>
<text x="25.6" y="865.28" font-size="9" text-anchor="end" fill="#1a1a1a" stroke="#1a1a1a" stroke-width="0.22">0.4</text>
<line x1="183.66" y1="959.2" x2="183.66" y2="962.2" stroke="#707070" stroke-width="1"/>
<text x="183.66" y="973" font-size="9" text-anchor="middle" fill="#1a1a1a" stroke="#1a1a1a" stroke-width="0.22">0.4</text>
<line x1="27.2" y1="818.02" x2="29.8" y2="818.02" stroke="#707070" stroke-width="1"/>
<text x="25.6" y="821.22" font-size="9" text-anchor="end" fill="#1a1a1a" stroke="#1a1a1a" stroke-width="0.22">0.6</text>
<line x1="139.64" y1="959.2" x2="139.64" y2="962.2" stroke="#707070" stroke-width="1"/>
<text x="139.64" y="973" font-size="9" text-anchor="middle" fill="#1a1a1a" stroke="#1a1a1a" stroke-width="0.22">0.6</text>
<line x1="27.2" y1="773.96" x2="29.8" y2="773.96" stroke="#707070" stroke-width="1"/>
<text x="25.6" y="777.16" font-size="9" text-anchor="end" fill="#1a1a1a" stroke="#1a1a1a" stroke-width="0.22">0.8</text>
<line x1="95.62" y1="959.2" x2="95.62" y2="962.2" stroke="#707070" stroke-width="1"/>
<text x="95.62" y="973" font-size="9" text-anchor="middle" fill="#1a1a1a" stroke="#1a1a1a" stroke-width="0.22">0.8</text>
<line x1="27.2" y1="729.90" x2="29.8" y2="729.90" stroke="#707070" stroke-width="1"/>
<text x="25.6" y="733.10" font-size="9" text-anchor="end" fill="#1a1a1a" stroke="#1a1a1a" stroke-width="0.22">1.0</text>
<line x1="51.60" y1="959.2" x2="51.60" y2="962.2" stroke="#707070" stroke-width="1"/>
<text x="51.60" y="973" font-size="9" text-anchor="middle" fill="#1a1a1a" stroke="#1a1a1a" stroke-width="0.22">1.0</text>
<text x="168.6" y="989" font-size="10.2" text-anchor="middle" fill="#1a1a1a" stroke="#1a1a1a" stroke-width="0.22">Specificity</text>
<text transform="translate(6.9,833.9) rotate(-90)" font-size="8.8" text-anchor="middle" fill="#1a1a1a" stroke="#1a1a1a" stroke-width="0.22">Sensitivity</text>
<rect x="161.6" y="848.40" width="21.6" height="4.8" fill="#45EA2A" stroke="#505050" stroke-width="0.9"/>
<text x="184.2" y="853.50" font-size="7.8" fill="#1a1a1a" stroke="#1a1a1a" stroke-width="0.22">CELA2A (AUC=0.905)</text>
<rect x="161.6" y="859.50" width="21.6" height="4.8" fill="#F51F1F" stroke="#505050" stroke-width="0.9"/>
<text x="184.2" y="864.60" font-size="7.8" fill="#1a1a1a" stroke="#1a1a1a" stroke-width="0.22">DEFA3 (AUC=0.897)</text>
<rect x="161.6" y="870.70" width="21.6" height="4.8" fill="#EE8C2A" stroke="#505050" stroke-width="0.9"/>
<text x="184.2" y="875.80" font-size="7.8" fill="#1a1a1a" stroke="#1a1a1a" stroke-width="0.22">IGHM (AUC=0.924)</text>
<rect x="161.6" y="882.00" width="21.6" height="4.8" fill="#F2F23A" stroke="#505050" stroke-width="0.9"/>
<text x="184.2" y="887.10" font-size="7.8" fill="#1a1a1a" stroke="#1a1a1a" stroke-width="0.22">KLK1 (AUC=0.897)</text>
<rect x="161.6" y="894.80" width="21.6" height="4.8" fill="#000000" stroke="#505050" stroke-width="0.9"/>
<text x="184.2" y="899.90" font-size="7.8" fill="#1a1a1a" stroke="#1a1a1a" stroke-width="0.22">AMY2B (AUC=0.786)</text>
<rect x="161.6" y="905.70" width="21.6" height="4.8" fill="#80F5E2" stroke="#505050" stroke-width="0.9"/>
<text x="184.2" y="910.80" font-size="7.8" fill="#1a1a1a" stroke="#1a1a1a" stroke-width="0.22">ELA3A (AUC=0.745)</text>
<rect x="161.6" y="916.90" width="21.6" height="4.8" fill="#EEDC30" stroke="#505050" stroke-width="0.9"/>
<text x="184.2" y="922.00" font-size="7.8" fill="#1a1a1a" stroke="#1a1a1a" stroke-width="0.22">REG1B (AUC=0.798)</text>
<rect x="161.6" y="928.10" width="21.6" height="4.8" fill="#3A9384" stroke="#505050" stroke-width="0.9"/>
<text x="184.2" y="933.20" font-size="7.8" fill="#1a1a1a" stroke="#1a1a1a" stroke-width="0.22">ANXA2 (AUC=0.527)</text>
<rect x="161.6" y="940.30" width="21.6" height="4.8" fill="#A9CDEE" stroke="#505050" stroke-width="0.9"/>
<text x="184.2" y="943.00" font-size="7.8" fill="#1a1a1a" stroke="#1a1a1a" stroke-width="0.22">Ig kappa chain V-III region NG9</text>
<text x="184.2" y="951.9" font-size="7.8" fill="#1a1a1a" stroke="#1a1a1a" stroke-width="0.22">(AUC=0.886)</text>
<line x1="327.20" y1="733.4" x2="327.20" y2="952.2" stroke="#EBEBEB" stroke-width="0.6"/>
<line x1="324.3" y1="949.90" x2="571.6" y2="949.90" stroke="#EBEBEB" stroke-width="0.6"/>
<line x1="375.54" y1="733.4" x2="375.54" y2="952.2" stroke="#EBEBEB" stroke-width="0.6"/>
<line x1="324.3" y1="906.96" x2="571.6" y2="906.96" stroke="#EBEBEB" stroke-width="0.6"/>
<line x1="423.88" y1="733.4" x2="423.88" y2="952.2" stroke="#EBEBEB" stroke-width="0.6"/>
<line x1="324.3" y1="864.02" x2="571.6" y2="864.02" stroke="#EBEBEB" stroke-width="0.6"/>
<line x1="472.22" y1="733.4" x2="472.22" y2="952.2" stroke="#EBEBEB" stroke-width="0.6"/>
<line x1="324.3" y1="821.08" x2="571.6" y2="821.08" stroke="#EBEBEB" stroke-width="0.6"/>
<line x1="520.56" y1="733.4" x2="520.56" y2="952.2" stroke="#EBEBEB" stroke-width="0.6"/>
<line x1="324.3" y1="778.14" x2="571.6" y2="778.14" stroke="#EBEBEB" stroke-width="0.6"/>
<line x1="568.90" y1="733.4" x2="568.90" y2="952.2" stroke="#EBEBEB" stroke-width="0.6"/>
<line x1="324.3" y1="735.20" x2="571.6" y2="735.20" stroke="#EBEBEB" stroke-width="0.6"/>
<line x1="324.3" y1="905.8" x2="569.3" y2="905.8" stroke="#333" stroke-width="1.2" stroke-dasharray="3.6 2.6"/>
<polyline points="343.40,735.10 343.40,905.30 359.30,878.50 359.30,901.80 375.00,886.50 391.70,871.50 391.70,878.50 407.80,867.10 407.80,893.50 424.10,885.40 424.10,918.20 568.80,905.80" fill="none" stroke="#F6C9D3" stroke-width="1.25" stroke-linejoin="miter" />
<polyline points="331.10,735.10 331.10,896.50 335.10,863.70 335.70,878.10 339.50,857.10 339.90,878.50 343.50,862.00 348.30,850.10 357.00,832.60 365.80,819.40 374.60,808.90 381.60,802.80 381.60,810.10 389.40,803.10 390.00,810.10 397.90,803.70 398.40,809.40 409.60,802.80 423.60,796.60 435.50,790.50 435.90,794.90 453.60,789.20 472.60,783.40 473.30,786.30 480.00,785.10 500.00,780.50 520.00,776.30 530.00,774.70 547.10,771.80 569.30,779.30" fill="none" stroke="#A2C7E6" stroke-width="1.25" stroke-linejoin="miter" />
<polyline points="440.10,735.10 440.10,742.69" fill="none" stroke="#2E8C7A" stroke-width="1.25" stroke-linejoin="miter" />
<polyline points="452.60,742.08 452.60,748.60 469.20,747.10 469.20,752.30 477.30,751.10 477.30,755.50 504.70,753.20" fill="none" stroke="#2E8C7A" stroke-width="1.25" stroke-linejoin="miter" />
<polyline points="506.90,757.30 515.30,756.20 522.00,759.60 530.00,764.20 538.00,768.30 547.10,771.80 569.30,779.30" fill="none" stroke="#2E8C7A" stroke-width="1.25" stroke-linejoin="miter" />
<polyline points="460.70,735.10 460.70,741.68" fill="none" stroke="#F21C1C" stroke-width="1.25" stroke-linejoin="miter" />
<polyline points="469.60,741.25 469.60,747.10 482.00,745.30 485.70,745.30 485.70,759.90 489.70,759.90 489.70,763.20 494.10,763.20 494.10,766.50 498.30,766.50 498.30,774.30 504.60,772.50 504.90,775.60 519.40,773.20 519.40,776.30" fill="none" stroke="#F21C1C" stroke-width="1.25" stroke-linejoin="miter" />
<polyline points="548.40,772.40 548.40,777.50 556.30,776.30 556.30,778.60 569.30,779.30" fill="none" stroke="#F21C1C" stroke-width="1.25" stroke-linejoin="miter" />
<polyline points="520.60,735.10 523.00,737.54 525.38,739.79 527.70,741.96 529.78,744.05 531.28,746.07 532.79,748.02 534.29,749.90 535.80,751.72 537.30,753.47 538.81,755.17 540.31,756.82 541.82,758.41 543.32,759.95 544.83,761.45 546.33,762.90 547.83,764.31 549.34,765.68 550.84,767.01 552.35,768.30 553.85,769.55 555.36,770.77 556.86,771.96 558.37,773.11 559.87,774.24 561.38,775.33 562.88,776.40 564.39,777.44 565.89,778.45 567.40,779.44 568.90,780.40" fill="none" stroke="#E050B2" stroke-width="1.25" stroke-linejoin="miter" />
<polyline points="431.60,735.10 520.60,735.10 520.56,735.20 522.17,737.97 523.78,740.44 525.39,742.76 527.01,744.95 528.62,747.03 530.23,749.02 531.84,750.93 533.45,752.75 535.06,754.50 536.67,756.19 538.28,757.81 539.90,759.38 541.51,760.89 543.12,762.34 544.73,763.75 546.34,765.11 547.95,766.43 549.56,767.71 551.18,768.94 552.79,770.14 554.40,771.30 556.01,772.43 557.62,773.53 559.23,774.59 560.84,775.63 562.45,776.64 564.07,777.62 565.68,778.57 567.29,779.50 568.90,780.40" fill="none" stroke="#7FF5DC" stroke-width="1.25" stroke-linejoin="miter" />
<polyline points="327.20,735.10 431.60,735.10 431.60,743.10 472.70,741.10 472.70,746.30 481.70,745.70 481.70,751.10 489.70,750.80 489.70,755.20 502.50,753.70 502.50,758.10 506.90,757.30 506.90,771.90 551.00,765.50 556.90,765.20 556.90,768.10 565.80,767.20 565.80,770.10 569.40,769.80 569.40,779.30" fill="none" stroke="#E8D630" stroke-width="1.25" stroke-linejoin="miter" />
<polyline points="472.70,735.10 472.70,756.20 504.70,753.00 504.70,825.30 520.90,821.60 520.90,827.10 537.60,822.90 537.60,846.30 553.30,842.40 553.30,885.90 568.80,882.70 569.30,905.80" fill="none" stroke="#0a0a0a" stroke-width="1.3" stroke-linejoin="miter" />
<rect x="324.3" y="733.4" width="247.30" height="218.80" fill="none" stroke="#858585" stroke-width="1"/>
<line x1="322.3" y1="949.90" x2="324.3" y2="949.90" stroke="#555" stroke-width="0.8"/>
<text x="318.4" y="952.90" font-size="8.6" text-anchor="end" fill="#1a1a1a" stroke="#1a1a1a" stroke-width="0.22">0.0</text>
<line x1="327.20" y1="952.2" x2="327.20" y2="954.4" stroke="#555" stroke-width="0.8"/>
<text x="329.80" y="969" font-size="8.6" text-anchor="middle" fill="#1a1a1a" stroke="#1a1a1a" stroke-width="0.22">0.0</text>
<line x1="322.3" y1="906.96" x2="324.3" y2="906.96" stroke="#555" stroke-width="0.8"/>
<text x="318.4" y="909.96" font-size="8.6" text-anchor="end" fill="#1a1a1a" stroke="#1a1a1a" stroke-width="0.22">0.2</text>
<line x1="375.54" y1="952.2" x2="375.54" y2="954.4" stroke="#555" stroke-width="0.8"/>
<text x="378.14" y="969" font-size="8.6" text-anchor="middle" fill="#1a1a1a" stroke="#1a1a1a" stroke-width="0.22">0.2</text>
<line x1="322.3" y1="864.02" x2="324.3" y2="864.02" stroke="#555" stroke-width="0.8"/>
<text x="318.4" y="867.02" font-size="8.6" text-anchor="end" fill="#1a1a1a" stroke="#1a1a1a" stroke-width="0.22">0.4</text>
<line x1="423.88" y1="952.2" x2="423.88" y2="954.4" stroke="#555" stroke-width="0.8"/>
<text x="426.48" y="969" font-size="8.6" text-anchor="middle" fill="#1a1a1a" stroke="#1a1a1a" stroke-width="0.22">0.4</text>
<line x1="322.3" y1="821.08" x2="324.3" y2="821.08" stroke="#555" stroke-width="0.8"/>
<text x="318.4" y="824.08" font-size="8.6" text-anchor="end" fill="#1a1a1a" stroke="#1a1a1a" stroke-width="0.22">0.6</text>
<line x1="472.22" y1="952.2" x2="472.22" y2="954.4" stroke="#555" stroke-width="0.8"/>
<text x="474.82" y="969" font-size="8.6" text-anchor="middle" fill="#1a1a1a" stroke="#1a1a1a" stroke-width="0.22">0.6</text>
<line x1="322.3" y1="778.14" x2="324.3" y2="778.14" stroke="#555" stroke-width="0.8"/>
<text x="318.4" y="781.14" font-size="8.6" text-anchor="end" fill="#1a1a1a" stroke="#1a1a1a" stroke-width="0.22">0.8</text>
<line x1="520.56" y1="952.2" x2="520.56" y2="954.4" stroke="#555" stroke-width="0.8"/>
<text x="523.16" y="969" font-size="8.6" text-anchor="middle" fill="#1a1a1a" stroke="#1a1a1a" stroke-width="0.22">0.8</text>
<line x1="322.3" y1="735.20" x2="324.3" y2="735.20" stroke="#555" stroke-width="0.8"/>
<text x="318.4" y="738.20" font-size="8.6" text-anchor="end" fill="#1a1a1a" stroke="#1a1a1a" stroke-width="0.22">1.0</text>
<line x1="568.90" y1="952.2" x2="568.90" y2="954.4" stroke="#555" stroke-width="0.8"/>
<text x="571.50" y="969" font-size="8.6" text-anchor="middle" fill="#1a1a1a" stroke="#1a1a1a" stroke-width="0.22">1.0</text>
<text x="440" y="990" font-size="10" text-anchor="middle" fill="#1a1a1a" stroke="#1a1a1a" stroke-width="0.22">Recall</text>
<text transform="translate(302.9,831.3) rotate(-90)" font-size="8.8" text-anchor="middle" fill="#1a1a1a" stroke="#1a1a1a" stroke-width="0.22">Precision</text>
<rect x="580.1" y="786.10" width="23.5" height="3.6" fill="#2E8C7A"/>
<text x="605.8" y="790.30" font-size="7.6" fill="#1a1a1a" stroke="#1a1a1a" stroke-width="0.22">AMY2B (PR=0.941)</text>
<rect x="580.1" y="795.12" width="23.5" height="3.6" fill="#F6C9D3"/>
<text x="605.8" y="799.32" font-size="7.6" fill="#1a1a1a" stroke="#1a1a1a" stroke-width="0.22">ANXA2 (PR=0.276)</text>
<rect x="580.1" y="804.14" width="23.5" height="3.6" fill="#E050B2"/>
<text x="605.8" y="808.34" font-size="7.6" fill="#1a1a1a" stroke="#1a1a1a" stroke-width="0.22">CELA2A (PR=0.978)</text>
<rect x="580.1" y="813.16" width="23.5" height="3.6" fill="#8B4C1E"/>
<text x="605.8" y="817.36" font-size="7.6" fill="#1a1a1a" stroke="#1a1a1a" stroke-width="0.22">DEFA3 (PR=0.975)</text>
<rect x="580.1" y="822.18" width="23.5" height="3.6" fill="#F21C1C"/>
<text x="605.8" y="826.38" font-size="7.6" fill="#1a1a1a" stroke="#1a1a1a" stroke-width="0.22">ELA3A (PR=0.934)</text>
<rect x="580.1" y="831.20" width="23.5" height="3.6" fill="#0a0a0a"/>
<text x="605.8" y="835.40" font-size="7.6" fill="#1a1a1a" stroke="#1a1a1a" stroke-width="0.22">IGHM (PR=0.852)</text>
<rect x="580.1" y="840.22" width="23.5" height="3.6" fill="#7FF5DC"/>
<text x="605.8" y="844.42" font-size="7.6" fill="#1a1a1a" stroke="#1a1a1a" stroke-width="0.22">KLK1 (PR=0.975)</text>
<rect x="580.1" y="849.24" width="23.5" height="3.6" fill="#E8D630"/>
<text x="605.8" y="853.44" font-size="7.6" fill="#1a1a1a" stroke="#1a1a1a" stroke-width="0.22">REG1B (PR=0.943)</text>
<rect x="580.1" y="858.26" width="23.5" height="3.6" fill="#A2C7E6"/>
<text x="605.8" y="862.46" font-size="7.6" fill="#1a1a1a" stroke="#1a1a1a" stroke-width="0.22">Ig kappa chain V-III</text>
<text x="605.8" y="873.00" font-size="7.6" fill="#1a1a1a" stroke="#1a1a1a" stroke-width="0.22">region NG9(PR=0.714)</text>
</svg></body></html>
